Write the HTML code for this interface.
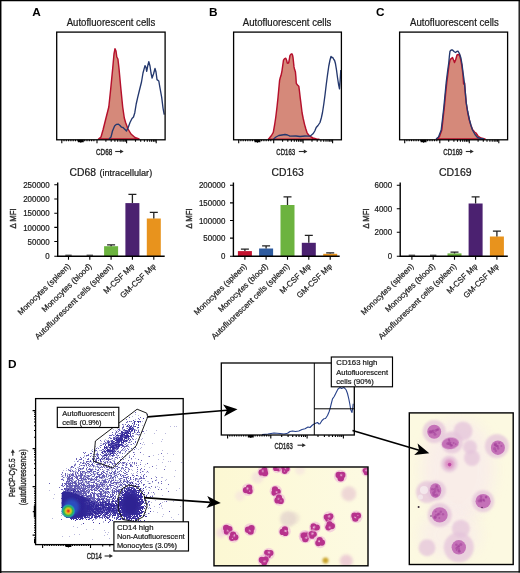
<!DOCTYPE html><html><head><meta charset="utf-8"><style>html,body{margin:0;padding:0;background:#fff}svg{display:block;will-change:transform}</style></head><body><svg width="520" height="573" viewBox="0 0 520 573" font-family="Liberation Sans, sans-serif">
<defs>
<filter id="b0" x="-50%" y="-50%" width="200%" height="200%"><feGaussianBlur stdDeviation="0.45"/></filter>
<filter id="b1" x="-50%" y="-50%" width="200%" height="200%"><feGaussianBlur stdDeviation="0.7"/></filter>
<filter id="b15" x="-50%" y="-50%" width="200%" height="200%"><feGaussianBlur stdDeviation="1.15"/></filter>
<filter id="b4" x="-50%" y="-50%" width="200%" height="200%"><feGaussianBlur stdDeviation="7"/></filter>
<filter id="b2" x="-50%" y="-50%" width="200%" height="200%"><feGaussianBlur stdDeviation="1.6"/></filter>
<filter id="b3" x="-50%" y="-50%" width="200%" height="200%"><feGaussianBlur stdDeviation="2.6"/></filter>
<clipPath id="c1"><rect x="214" y="467" width="154" height="98.8"/></clipPath>
<clipPath id="c2"><rect x="409.3" y="412.9" width="103.9" height="151.6"/></clipPath>
<clipPath id="cs"><rect x="36" y="399" width="147" height="145"/></clipPath>
<radialGradient id="core" cx="0.5" cy="0.5" r="0.5">
<stop offset="0" stop-color="#c81e1a"/><stop offset="0.13" stop-color="#e8541a"/><stop offset="0.3" stop-color="#f0b81c"/><stop offset="0.44" stop-color="#a8cc2c"/>
<stop offset="0.6" stop-color="#3aae4c"/><stop offset="0.8" stop-color="#1fa6a4"/><stop offset="1" stop-color="#2a62c8" stop-opacity="0"/>
</radialGradient>
<linearGradient id="tailg" x1="61" y1="0" x2="100" y2="0" gradientUnits="userSpaceOnUse"><stop offset="0" stop-color="#2e2596"/><stop offset="0.55" stop-color="#2e2596" stop-opacity="0.95"/><stop offset="1" stop-color="#2e2596" stop-opacity="0.15"/></linearGradient>
<linearGradient id="bg1" x1="214" y1="0" x2="368" y2="0" gradientUnits="userSpaceOnUse"><stop offset="0" stop-color="#fcf8d3"/><stop offset="1" stop-color="#fdfae2"/></linearGradient>
</defs>
<rect x="0" y="0" width="520" height="573" fill="#fff"/>
<path d="M98.5 139.0L101.0 137.0L103.0 130.0L105.5 120.0L108.8 107.0L110.8 88.0L112.7 68.5L114.0 54.0L115.0 48.7L116.0 51.0L116.8 57.0L117.9 59.0L119.0 68.5L120.8 88.0L122.7 107.0L124.3 118.0L125.6 122.5L128.0 129.0L131.0 134.0L135.0 137.5L139.0 139.0Z" fill="#d5897a" stroke="#b5102c" stroke-width="1.45" stroke-linejoin="round"/>
<path d="M109.0 139.0L111.0 137.0L112.5 131.0L114.6 126.0L116.5 124.3L118.5 124.2L120.0 125.5L121.5 127.2L123.0 127.5L125.0 129.5L126.5 131.0L128.0 128.0L130.0 122.5L132.0 118.5L133.5 117.0L134.8 112.7L136.2 104.0L137.7 97.3L139.5 90.0L141.5 82.0L143.0 73.0L145.0 65.6L146.0 67.5L146.7 71.3L147.7 66.0L148.8 61.7L150.0 66.0L151.0 73.0L152.1 78.0L153.5 74.0L155.0 68.5L156.0 72.0L157.0 79.6L158.8 81.0L160.0 88.0L161.7 97.3L163.0 108.0L164.2 114.6" fill="none" stroke="#24386e" stroke-width="1.35" stroke-linejoin="round"/>
<rect x="56.7" y="32.1" width="108.39999999999999" height="107.70000000000002" fill="none" stroke="#000" stroke-width="1.3"/>
<path d="M97.0 139.8v3.4M105.9 139.8v2.0M111.2 139.8v2.0M114.9 139.8v2.0M117.7 139.8v2.0M120.1 139.8v2.0M122.0 139.8v2.0M123.8 139.8v2.0M125.3 139.8v2.0M126.6 139.8v3.4M135.5 139.8v2.0M140.7 139.8v2.0M144.4 139.8v2.0M147.3 139.8v2.0M149.7 139.8v2.0M151.6 139.8v2.0M153.4 139.8v2.0M154.9 139.8v2.0M156.2 139.8v3.4M78.4 139.8v2.4M79.2 139.8v2.4M80.0 139.8v2.4M80.8 139.8v3.0M81.6 139.8v2.4M82.4 139.8v2.4M83.2 139.8v2.4M64.0 139.8v1.5M66.3 139.8v1.5M68.6 139.8v1.5M70.9 139.8v1.5M73.2 139.8v1.5M75.5 139.8v1.5M77.8 139.8v1.5M80.1 139.8v1.5M82.4 139.8v1.5M84.7 139.8v1.5M87.0 139.8v1.5M89.3 139.8v1.5M91.6 139.8v1.5M93.9 139.8v1.5M61.8 139.8v3.4" stroke="#000" stroke-width="1.1" fill="none"/>
<path d="M268.5 139.0L269.4 138.0L271.5 135.5L273.3 132.3L274.6 125.0L275.8 117.0L277.0 107.0L278.0 97.7L278.8 89.0L279.6 80.4L280.3 77.5L281.0 75.6L282.0 70.8L282.8 65.0L283.5 60.2L284.6 58.6L285.8 58.3L286.6 60.2L287.3 63.0L288.0 63.3L288.7 62.7L289.4 59.0L290.0 55.4L291.0 54.2L291.9 53.8L292.5 55.0L293.0 57.3L293.5 62.0L294.0 66.9L294.7 69.8L295.4 71.7L295.9 77.0L296.3 83.3L297.5 85.0L298.8 86.2L299.5 91.5L300.2 97.7L301.2 105.5L302.1 113.0L303.3 119.0L304.6 124.6L305.8 128.8L306.9 132.3L308.3 134.6L309.8 136.2L313.0 138.0L316.5 139.0L319.0 139.2Z" fill="#d5897a" stroke="#b5102c" stroke-width="1.45" stroke-linejoin="round"/>
<path d="M273.5 139.0L276.0 137.0L278.8 135.5L282.0 135.0L285.0 134.5L287.5 135.0L290.0 136.2L296.0 136.0L300.0 136.5L305.0 136.0L310.0 136.2L313.0 133.8L314.8 131.0L316.2 127.5L318.0 125.5L320.0 122.5L321.3 118.0L322.5 112.5L323.8 104.0L325.0 95.0L326.2 85.0L327.5 75.0L328.8 66.0L330.0 60.0L331.0 56.5L331.8 57.5L332.8 57.5L333.8 59.5L334.6 60.5L335.5 63.8L336.5 70.0L337.5 77.5L338.5 84.0L339.5 88.8L340.2 80.0L340.8 70.0" fill="none" stroke="#24386e" stroke-width="1.35" stroke-linejoin="round"/>
<rect x="233.6" y="32.1" width="107.79999999999998" height="107.70000000000002" fill="none" stroke="#000" stroke-width="1.3"/>
<path d="M273.7 139.8v3.4M282.6 139.8v2.0M287.8 139.8v2.0M291.4 139.8v2.0M294.3 139.8v2.0M296.6 139.8v2.0M298.6 139.8v2.0M300.3 139.8v2.0M301.8 139.8v2.0M303.1 139.8v3.4M312.0 139.8v2.0M317.2 139.8v2.0M320.9 139.8v2.0M323.7 139.8v2.0M326.0 139.8v2.0M328.0 139.8v2.0M329.7 139.8v2.0M331.2 139.8v2.0M332.6 139.8v3.4M255.1 139.8v2.4M255.9 139.8v2.4M256.7 139.8v2.4M257.5 139.8v3.0M258.3 139.8v2.4M259.1 139.8v2.4M259.9 139.8v2.4M240.9 139.8v1.5M243.2 139.8v1.5M245.5 139.8v1.5M247.8 139.8v1.5M250.1 139.8v1.5M252.4 139.8v1.5M254.7 139.8v1.5M257.0 139.8v1.5M259.3 139.8v1.5M261.6 139.8v1.5M263.9 139.8v1.5M266.2 139.8v1.5M268.5 139.8v1.5M270.8 139.8v1.5M238.7 139.8v3.4" stroke="#000" stroke-width="1.1" fill="none"/>
<path d="M437.0 139.0L439.5 136.5L441.8 130.0L443.0 119.0L444.3 107.5L445.5 95.0L446.8 82.5L448.0 73.0L449.0 65.0L450.0 60.0L451.2 58.5L452.5 57.5L453.6 60.0L454.5 62.5L455.6 60.0L457.0 55.0L458.3 54.5L459.5 55.0L460.8 60.0L462.0 67.0L463.0 75.0L463.6 84.0L464.6 83.0L465.2 92.0L466.2 103.0L467.6 112.0L469.3 120.0L470.8 125.0L472.5 129.5L474.5 132.0L476.0 133.0L478.0 136.0L481.0 138.0L485.0 139.0Z" fill="#d5897a" stroke="#b5102c" stroke-width="1.45" stroke-linejoin="round"/>
<path d="M436.0 139.0L438.5 137.0L441.2 130.0L442.5 119.0L443.8 107.5L445.0 95.0L446.2 82.5L447.5 72.0L448.8 62.5L449.4 56.0L450.0 51.2L451.2 50.0L452.5 50.0L454.0 51.5L455.5 52.5L456.8 51.5L458.0 51.2L459.4 53.5L460.8 57.5L462.0 64.0L463.0 72.5L463.8 78.0L464.5 83.8L465.4 93.0L466.2 102.5L467.8 112.0L469.5 120.0L471.0 125.5L472.5 130.0L475.0 134.5L477.5 137.5L480.5 138.5L484.0 139.0" fill="none" stroke="#24386e" stroke-width="1.35" stroke-linejoin="round"/>
<rect x="399.6" y="32.1" width="108.0" height="107.70000000000002" fill="none" stroke="#000" stroke-width="1.3"/>
<path d="M439.8 139.8v3.4M448.7 139.8v2.0M453.9 139.8v2.0M457.5 139.8v2.0M460.4 139.8v2.0M462.7 139.8v2.0M464.7 139.8v2.0M466.4 139.8v2.0M467.9 139.8v2.0M469.3 139.8v3.4M478.1 139.8v2.0M483.3 139.8v2.0M487.0 139.8v2.0M489.9 139.8v2.0M492.2 139.8v2.0M494.2 139.8v2.0M495.9 139.8v2.0M497.4 139.8v2.0M498.8 139.8v3.4M421.2 139.8v2.4M422.0 139.8v2.4M422.8 139.8v2.4M423.6 139.8v3.0M424.4 139.8v2.4M425.2 139.8v2.4M426.0 139.8v2.4M406.9 139.8v1.5M409.2 139.8v1.5M411.5 139.8v1.5M413.8 139.8v1.5M416.1 139.8v1.5M418.4 139.8v1.5M420.7 139.8v1.5M423.0 139.8v1.5M425.3 139.8v1.5M427.6 139.8v1.5M429.9 139.8v1.5M432.2 139.8v1.5M434.5 139.8v1.5M436.8 139.8v1.5M404.7 139.8v3.4" stroke="#000" stroke-width="1.1" fill="none"/>
<text x="66.7" y="26.1" font-size="10.4" text-anchor="start" font-weight="normal" fill="#1a1a1a" stroke="#1a1a1a" stroke-width="0.22" textLength="88.6" lengthAdjust="spacingAndGlyphs" >Autofluorescent cells</text>
<text x="242.8" y="26.1" font-size="10.4" text-anchor="start" font-weight="normal" fill="#1a1a1a" stroke="#1a1a1a" stroke-width="0.22" textLength="88.6" lengthAdjust="spacingAndGlyphs" >Autofluorescent cells</text>
<text x="410.09999999999997" y="26.1" font-size="10.4" text-anchor="start" font-weight="normal" fill="#1a1a1a" stroke="#1a1a1a" stroke-width="0.22" textLength="88.6" lengthAdjust="spacingAndGlyphs" >Autofluorescent cells</text>
<text x="32.2" y="16.1" font-size="11.8" text-anchor="start" font-weight="bold" fill="#000" >A</text>
<text x="209" y="16.1" font-size="11.8" text-anchor="start" font-weight="bold" fill="#000" >B</text>
<text x="376.1" y="16.1" font-size="11.8" text-anchor="start" font-weight="bold" fill="#000" >C</text>
<text x="7.9" y="368.1" font-size="11.8" text-anchor="start" font-weight="bold" fill="#000" >D</text>
<text x="96" y="155" font-size="9.7" text-anchor="start" font-weight="normal" fill="#2a2a2a" stroke="#2a2a2a" stroke-width="0.45" textLength="16.2" lengthAdjust="spacingAndGlyphs" >CD68</text>
<path d="M115.2 151.5H121.2" stroke="#2a2a2a" stroke-width="1.1" fill="none"/>
<path d="M123.7 151.5L120.10000000000001 149.5L120.10000000000001 153.5Z" fill="#2a2a2a"/>
<text x="276.3" y="155" font-size="9.7" text-anchor="start" font-weight="normal" fill="#2a2a2a" stroke="#2a2a2a" stroke-width="0.45" textLength="18.8" lengthAdjust="spacingAndGlyphs" >CD163</text>
<path d="M298.8 151.5H304.9" stroke="#2a2a2a" stroke-width="1.1" fill="none"/>
<path d="M307.4 151.5L303.79999999999995 149.5L303.79999999999995 153.5Z" fill="#2a2a2a"/>
<text x="443.3" y="155" font-size="9.7" text-anchor="start" font-weight="normal" fill="#2a2a2a" stroke="#2a2a2a" stroke-width="0.45" textLength="19.2" lengthAdjust="spacingAndGlyphs" >CD169</text>
<path d="M465.8 151.5H471.3" stroke="#2a2a2a" stroke-width="1.1" fill="none"/>
<path d="M473.8 151.5L470.2 149.5L470.2 153.5Z" fill="#2a2a2a"/>
<path d="M65.3 255.2h6.4" stroke="#222" stroke-width="1" fill="none"/>
<path d="M86.6 255.2h6.4" stroke="#222" stroke-width="1" fill="none"/>
<rect x="104.1" y="246.2" width="14" height="10.1" fill="#6cb33f"/>
<path d="M111.1 246.2V244.8M107.1 244.8h8" stroke="#222" stroke-width="1.3" fill="none"/>
<rect x="125.4" y="203.1" width="14" height="53.2" fill="#4b2170"/>
<path d="M132.4 203.1V194.3M128.4 194.3h8" stroke="#222" stroke-width="1.3" fill="none"/>
<rect x="146.8" y="218.5" width="14" height="37.8" fill="#e8931d"/>
<path d="M153.8 218.5V212.3M149.8 212.3h8" stroke="#222" stroke-width="1.3" fill="none"/>
<path d="M57.7 182.5V256.25H164.7" stroke="#000" stroke-width="1.4" fill="none" stroke-linejoin="miter"/>
<text x="49.7" y="187.9" font-size="8.8" text-anchor="end" font-weight="normal" fill="#1a1a1a" stroke="#1a1a1a" stroke-width="0.22" textLength="26.5" lengthAdjust="spacingAndGlyphs" >250000</text>
<text x="49.7" y="202.1" font-size="8.8" text-anchor="end" font-weight="normal" fill="#1a1a1a" stroke="#1a1a1a" stroke-width="0.22" textLength="26.5" lengthAdjust="spacingAndGlyphs" >200000</text>
<text x="49.7" y="216.29999999999998" font-size="8.8" text-anchor="end" font-weight="normal" fill="#1a1a1a" stroke="#1a1a1a" stroke-width="0.22" textLength="26.5" lengthAdjust="spacingAndGlyphs" >150000</text>
<text x="49.7" y="230.5" font-size="8.8" text-anchor="end" font-weight="normal" fill="#1a1a1a" stroke="#1a1a1a" stroke-width="0.22" textLength="26.5" lengthAdjust="spacingAndGlyphs" >100000</text>
<text x="49.7" y="244.6" font-size="8.8" text-anchor="end" font-weight="normal" fill="#1a1a1a" stroke="#1a1a1a" stroke-width="0.22" textLength="22.1" lengthAdjust="spacingAndGlyphs" >50000</text>
<text x="49.7" y="259.35" font-size="8.8" text-anchor="end" font-weight="normal" fill="#1a1a1a" stroke="#1a1a1a" stroke-width="0.22" textLength="4.4" lengthAdjust="spacingAndGlyphs" >0</text>
<path d="M57.7 184.8h-3.4M57.7 199h-3.4M57.7 213.2h-3.4M57.7 227.4h-3.4M57.7 241.5h-3.4M57.7 256.25h-3.4M68.5 256.25v3.4M89.8 256.25v3.4M111.1 256.25v3.4M132.4 256.25v3.4M153.8 256.25v3.4" stroke="#000" stroke-width="1.1" fill="none"/>
<text x="70.9" y="266.9" font-size="8" text-anchor="end" fill="#1a1a1a" stroke="#1a1a1a" stroke-width="0.2" transform="rotate(-44 70.9 266.9)">Monocytes (spleen)</text>
<text x="92.2" y="266.9" font-size="8" text-anchor="end" fill="#1a1a1a" stroke="#1a1a1a" stroke-width="0.2" transform="rotate(-44 92.2 266.9)">Monocytes (blood)</text>
<text x="113.5" y="266.9" font-size="8" text-anchor="end" fill="#1a1a1a" stroke="#1a1a1a" stroke-width="0.2" transform="rotate(-44 113.5 266.9)">Autofluorescent cells (spleen)</text>
<text x="134.8" y="266.9" font-size="8" text-anchor="end" fill="#1a1a1a" stroke="#1a1a1a" stroke-width="0.2" transform="rotate(-44 134.8 266.9)">M-CSF M&#966;</text>
<text x="156.2" y="266.9" font-size="8" text-anchor="end" fill="#1a1a1a" stroke="#1a1a1a" stroke-width="0.2" transform="rotate(-44 156.2 266.9)">GM-CSF M&#966;</text>
<rect x="237.9" y="251.1" width="14" height="5.2" fill="#c4122f"/>
<path d="M244.9 251.1V249.2M240.9 249.2h8" stroke="#222" stroke-width="1.3" fill="none"/>
<rect x="259.1" y="248.5" width="14" height="7.8" fill="#2d5a9e"/>
<path d="M266.1 248.5V245.8M262.1 245.8h8" stroke="#222" stroke-width="1.3" fill="none"/>
<rect x="280.5" y="205.0" width="14" height="51.2" fill="#6cb33f"/>
<path d="M287.5 205.0V196.8M283.5 196.8h8" stroke="#222" stroke-width="1.3" fill="none"/>
<rect x="301.8" y="242.8" width="14" height="13.4" fill="#4b2170"/>
<path d="M308.8 242.8V235.4M304.8 235.4h8" stroke="#222" stroke-width="1.3" fill="none"/>
<rect x="323.2" y="253.8" width="14" height="2.4" fill="#e8931d"/>
<path d="M330.2 253.8V252.9M326.2 252.9h8" stroke="#222" stroke-width="1.3" fill="none"/>
<path d="M233.4 182.5V256.25H339.7" stroke="#000" stroke-width="1.4" fill="none" stroke-linejoin="miter"/>
<text x="225.4" y="188.4" font-size="8.8" text-anchor="end" font-weight="normal" fill="#1a1a1a" stroke="#1a1a1a" stroke-width="0.22" textLength="26.5" lengthAdjust="spacingAndGlyphs" >200000</text>
<text x="225.4" y="206.0" font-size="8.8" text-anchor="end" font-weight="normal" fill="#1a1a1a" stroke="#1a1a1a" stroke-width="0.22" textLength="26.5" lengthAdjust="spacingAndGlyphs" >150000</text>
<text x="225.4" y="223.6" font-size="8.8" text-anchor="end" font-weight="normal" fill="#1a1a1a" stroke="#1a1a1a" stroke-width="0.22" textLength="26.5" lengthAdjust="spacingAndGlyphs" >100000</text>
<text x="225.4" y="241.2" font-size="8.8" text-anchor="end" font-weight="normal" fill="#1a1a1a" stroke="#1a1a1a" stroke-width="0.22" textLength="22.1" lengthAdjust="spacingAndGlyphs" >50000</text>
<text x="225.4" y="259.35" font-size="8.8" text-anchor="end" font-weight="normal" fill="#1a1a1a" stroke="#1a1a1a" stroke-width="0.22" textLength="4.4" lengthAdjust="spacingAndGlyphs" >0</text>
<path d="M233.4 185.3h-3.4M233.4 202.9h-3.4M233.4 220.5h-3.4M233.4 238.1h-3.4M233.4 256.25h-3.4M244.9 256.25v3.4M266.1 256.25v3.4M287.5 256.25v3.4M308.8 256.25v3.4M330.2 256.25v3.4" stroke="#000" stroke-width="1.1" fill="none"/>
<text x="247.3" y="266.9" font-size="8" text-anchor="end" fill="#1a1a1a" stroke="#1a1a1a" stroke-width="0.2" transform="rotate(-44 247.3 266.9)">Monocytes (spleen)</text>
<text x="268.5" y="266.9" font-size="8" text-anchor="end" fill="#1a1a1a" stroke="#1a1a1a" stroke-width="0.2" transform="rotate(-44 268.5 266.9)">Monocytes (blood)</text>
<text x="289.9" y="266.9" font-size="8" text-anchor="end" fill="#1a1a1a" stroke="#1a1a1a" stroke-width="0.2" transform="rotate(-44 289.9 266.9)">Autofluorescent cells (spleen)</text>
<text x="311.2" y="266.9" font-size="8" text-anchor="end" fill="#1a1a1a" stroke="#1a1a1a" stroke-width="0.2" transform="rotate(-44 311.2 266.9)">M-CSF M&#966;</text>
<text x="332.6" y="266.9" font-size="8" text-anchor="end" fill="#1a1a1a" stroke="#1a1a1a" stroke-width="0.2" transform="rotate(-44 332.6 266.9)">GM-CSF M&#966;</text>
<path d="M408.7 255.2h6.4" stroke="#222" stroke-width="1" fill="none"/>
<path d="M430.0 255.2h6.4" stroke="#222" stroke-width="1" fill="none"/>
<rect x="447.5" y="253.4" width="14" height="2.8" fill="#6cb33f"/>
<path d="M454.5 253.4V252.2M450.5 252.2h8" stroke="#222" stroke-width="1.3" fill="none"/>
<rect x="468.6" y="203.5" width="14" height="52.8" fill="#4b2170"/>
<path d="M475.6 203.5V196.8M471.6 196.8h8" stroke="#222" stroke-width="1.3" fill="none"/>
<rect x="489.9" y="236.5" width="14" height="19.8" fill="#e8931d"/>
<path d="M496.9 236.5V231.2M492.9 231.2h8" stroke="#222" stroke-width="1.3" fill="none"/>
<path d="M400.2 182.5V256.25H507.8" stroke="#000" stroke-width="1.4" fill="none" stroke-linejoin="miter"/>
<text x="392.2" y="188.4" font-size="8.8" text-anchor="end" font-weight="normal" fill="#1a1a1a" stroke="#1a1a1a" stroke-width="0.22" textLength="17.7" lengthAdjust="spacingAndGlyphs" >6000</text>
<text x="392.2" y="211.79999999999998" font-size="8.8" text-anchor="end" font-weight="normal" fill="#1a1a1a" stroke="#1a1a1a" stroke-width="0.22" textLength="17.7" lengthAdjust="spacingAndGlyphs" >4000</text>
<text x="392.2" y="235.29999999999998" font-size="8.8" text-anchor="end" font-weight="normal" fill="#1a1a1a" stroke="#1a1a1a" stroke-width="0.22" textLength="17.7" lengthAdjust="spacingAndGlyphs" >2000</text>
<text x="392.2" y="259.35" font-size="8.8" text-anchor="end" font-weight="normal" fill="#1a1a1a" stroke="#1a1a1a" stroke-width="0.22" textLength="4.4" lengthAdjust="spacingAndGlyphs" >0</text>
<path d="M400.2 185.3h-3.4M400.2 208.7h-3.4M400.2 232.2h-3.4M400.2 256.25h-3.4M411.9 256.25v3.4M433.2 256.25v3.4M454.5 256.25v3.4M475.6 256.25v3.4M496.9 256.25v3.4" stroke="#000" stroke-width="1.1" fill="none"/>
<text x="414.3" y="266.9" font-size="8" text-anchor="end" fill="#1a1a1a" stroke="#1a1a1a" stroke-width="0.2" transform="rotate(-44 414.3 266.9)">Monocytes (spleen)</text>
<text x="435.6" y="266.9" font-size="8" text-anchor="end" fill="#1a1a1a" stroke="#1a1a1a" stroke-width="0.2" transform="rotate(-44 435.6 266.9)">Monocytes (blood)</text>
<text x="456.9" y="266.9" font-size="8" text-anchor="end" fill="#1a1a1a" stroke="#1a1a1a" stroke-width="0.2" transform="rotate(-44 456.9 266.9)">Autofluorescent cells (spleen)</text>
<text x="478.0" y="266.9" font-size="8" text-anchor="end" fill="#1a1a1a" stroke="#1a1a1a" stroke-width="0.2" transform="rotate(-44 478.0 266.9)">M-CSF M&#966;</text>
<text x="499.3" y="266.9" font-size="8" text-anchor="end" fill="#1a1a1a" stroke="#1a1a1a" stroke-width="0.2" transform="rotate(-44 499.3 266.9)">GM-CSF M&#966;</text>
<text x="69.5" y="176.4" font-size="10.5" text-anchor="start" font-weight="normal" fill="#1a1a1a" stroke="#1a1a1a" stroke-width="0.22" textLength="26.4" lengthAdjust="spacingAndGlyphs" >CD68</text>
<text x="99.4" y="176.4" font-size="9.2" text-anchor="start" font-weight="normal" fill="#1a1a1a" stroke="#1a1a1a" stroke-width="0.22" textLength="52.8" lengthAdjust="spacingAndGlyphs" >(intracellular)</text>
<text x="271.5" y="176.4" font-size="10.5" text-anchor="start" font-weight="normal" fill="#1a1a1a" stroke="#1a1a1a" stroke-width="0.22" textLength="32.2" lengthAdjust="spacingAndGlyphs" >CD163</text>
<text x="438.9" y="176.4" font-size="10.5" text-anchor="start" font-weight="normal" fill="#1a1a1a" stroke="#1a1a1a" stroke-width="0.22" textLength="32.7" lengthAdjust="spacingAndGlyphs" >CD169</text>
<text x="15.9" y="228.6" font-size="9.2" fill="#2a2a2a" stroke="#2a2a2a" stroke-width="0.4" textLength="20.2" lengthAdjust="spacingAndGlyphs" transform="rotate(-90 15.9 228.6)">&#916; MFI</text>
<text x="192.3" y="228.6" font-size="9.2" fill="#2a2a2a" stroke="#2a2a2a" stroke-width="0.4" textLength="20.2" lengthAdjust="spacingAndGlyphs" transform="rotate(-90 192.3 228.6)">&#916; MFI</text>
<text x="369.5" y="228.6" font-size="9.2" fill="#2a2a2a" stroke="#2a2a2a" stroke-width="0.4" textLength="20.2" lengthAdjust="spacingAndGlyphs" transform="rotate(-90 369.5 228.6)">&#916; MFI</text>
<g clip-path="url(#cs)">
<path d="M49 490h1M52 518h1M53 498h1M54 494h1M61 476h1M61 502h1M61 503h1M61 511h1M61 513h1M61 515h1M62 473h1M62 475h1M62 478h1M62 483h1M62 486h1M62 498h1M62 514h1M62 536h1M63 470h1M63 475h1M63 479h1M63 490h1M63 491h1M63 500h1M63 502h1M63 503h1M63 504h1M63 505h1M63 509h1M64 477h1M64 489h1M64 493h1M64 494h1M64 495h1M64 496h1M64 497h1M64 498h1M64 500h1M64 501h1M64 502h1M64 503h1M64 504h1M64 516h1M65 473h1M65 476h1M65 489h1M65 490h1M65 491h1M65 492h1M65 494h1M65 495h1M65 496h1M65 497h1M65 498h1M65 499h1M65 500h1M65 501h1M65 502h1M65 503h1M65 504h1M65 511h1M65 516h1M66 468h1M66 470h1M66 477h1M66 482h1M66 488h1M66 489h1M66 491h1M66 492h1M66 493h1M66 494h1M66 495h1M66 496h1M66 497h1M66 498h1M66 499h1M66 500h1M66 501h1M66 502h1M66 503h1M66 504h1M66 505h1M66 506h1M66 508h1M66 514h1M67 473h1M67 474h1M67 476h1M67 477h1M67 478h1M67 481h1M67 482h1M67 485h1M67 486h1M67 487h1M67 488h1M67 489h1M67 490h1M67 491h1M67 492h1M67 493h1M67 494h1M67 496h1M67 497h1M67 498h1M67 499h1M67 500h1M67 501h1M67 502h1M67 503h1M67 509h1M67 517h1M68 470h1M68 474h1M68 476h1M68 477h1M68 478h1M68 480h1M68 484h1M68 485h1M68 486h1M68 487h1M68 488h1M68 489h1M68 490h1M68 491h1M68 492h1M68 493h1M68 494h1M68 495h1M68 496h1M68 497h1M68 498h1M68 499h1M68 500h1M68 501h1M68 502h1M68 504h1M68 505h1M68 506h1M69 470h1M69 474h1M69 476h1M69 477h1M69 479h1M69 481h1M69 482h1M69 483h1M69 485h1M69 488h1M69 489h1M69 492h1M69 493h1M69 494h1M69 495h1M69 496h1M69 498h1M69 499h1M69 500h1M69 501h1M69 502h1M69 517h1M69 536h1M70 467h1M70 468h1M70 469h1M70 473h1M70 474h1M70 475h1M70 476h1M70 478h1M70 479h1M70 480h1M70 483h1M70 484h1M70 485h1M70 487h1M70 488h1M70 489h1M70 490h1M70 491h1M70 492h1M70 493h1M70 494h1M70 495h1M70 496h1M70 497h1M70 498h1M70 499h1M70 500h1M70 501h1M70 502h1M70 505h1M70 512h1M71 469h1M71 471h1M71 478h1M71 479h1M71 480h1M71 482h1M71 483h1M71 485h1M71 487h1M71 489h1M71 490h1M71 491h1M71 492h1M71 493h1M71 494h1M71 495h1M71 496h1M71 497h1M71 498h1M71 499h1M71 500h1M71 501h1M71 503h1M71 509h1M72 467h1M72 471h1M72 475h1M72 476h1M72 477h1M72 478h1M72 480h1M72 483h1M72 487h1M72 488h1M72 489h1M72 490h1M72 491h1M72 492h1M72 494h1M72 495h1M72 496h1M72 497h1M72 498h1M72 499h1M72 500h1M72 507h1M72 509h1M72 514h1M73 472h1M73 473h1M73 475h1M73 476h1M73 479h1M73 480h1M73 482h1M73 483h1M73 486h1M73 488h1M73 489h1M73 490h1M73 492h1M73 493h1M73 495h1M73 496h1M73 497h1M73 498h1M73 499h1M73 500h1M73 506h1M73 507h1M73 510h1M73 526h1M74 461h1M74 464h1M74 466h1M74 471h1M74 476h1M74 478h1M74 481h1M74 482h1M74 483h1M74 485h1M74 486h1M74 487h1M74 489h1M74 491h1M74 493h1M74 494h1M74 495h1M74 496h1M74 497h1M74 498h1M74 500h1M74 506h1M74 510h1M74 511h1M74 534h1M75 463h1M75 465h1M75 470h1M75 471h1M75 473h1M75 475h1M75 476h1M75 480h1M75 481h1M75 482h1M75 483h1M75 485h1M75 486h1M75 489h1M75 490h1M75 492h1M75 495h1M75 496h1M75 497h1M75 498h1M76 469h1M76 471h1M76 472h1M76 474h1M76 475h1M76 476h1M76 481h1M76 482h1M76 483h1M76 484h1M76 486h1M76 487h1M76 488h1M76 489h1M76 491h1M76 492h1M76 493h1M76 494h1M76 495h1M76 496h1M76 497h1M76 503h1M76 512h1M77 461h1M77 467h1M77 473h1M77 477h1M77 479h1M77 482h1M77 484h1M77 485h1M77 490h1M77 491h1M77 492h1M77 494h1M77 495h1M77 497h1M77 501h1M77 502h1M77 503h1M77 506h1M77 511h1M77 515h1M77 527h1M78 460h1M78 461h1M78 467h1M78 468h1M78 473h1M78 474h1M78 476h1M78 479h1M78 480h1M78 481h1M78 482h1M78 484h1M78 485h1M78 488h1M78 489h1M78 490h1M78 492h1M78 494h1M78 495h1M78 497h1M78 498h1M78 500h1M78 501h1M78 506h1M78 508h1M79 476h1M79 478h1M79 482h1M79 483h1M79 486h1M79 489h1M79 491h1M79 492h1M79 493h1M79 494h1M79 495h1M79 496h1M79 497h1M79 502h1M79 503h1M79 509h1M79 534h1M80 463h1M80 465h1M80 468h1M80 472h1M80 480h1M80 481h1M80 482h1M80 483h1M80 485h1M80 486h1M80 487h1M80 489h1M80 490h1M80 492h1M80 493h1M80 494h1M80 496h1M80 502h1M80 504h1M80 506h1M80 512h1M81 462h1M81 465h1M81 468h1M81 469h1M81 471h1M81 473h1M81 475h1M81 476h1M81 479h1M81 483h1M81 484h1M81 485h1M81 487h1M81 490h1M81 492h1M81 494h1M81 495h1M81 498h1M81 499h1M81 501h1M81 504h1M81 507h1M81 509h1M81 524h1M82 465h1M82 468h1M82 469h1M82 471h1M82 472h1M82 473h1M82 474h1M82 479h1M82 487h1M82 490h1M82 491h1M82 494h1M82 495h1M82 497h1M82 499h1M82 502h1M82 504h1M83 461h1M83 463h1M83 471h1M83 472h1M83 473h1M83 475h1M83 476h1M83 477h1M83 480h1M83 481h1M83 482h1M83 484h1M83 485h1M83 486h1M83 490h1M83 491h1M83 493h1M83 494h1M83 500h1M83 503h1M83 504h1M83 505h1M84 455h1M84 456h1M84 462h1M84 463h1M84 465h1M84 466h1M84 472h1M84 473h1M84 475h1M84 476h1M84 477h1M84 478h1M84 479h1M84 480h1M84 482h1M84 483h1M84 484h1M84 486h1M84 487h1M84 490h1M84 491h1M84 493h1M84 496h1M84 498h1M84 500h1M84 501h1M84 503h1M84 506h1M84 514h1M84 517h1M85 458h1M85 464h1M85 475h1M85 477h1M85 479h1M85 480h1M85 482h1M85 485h1M85 489h1M85 495h1M85 497h1M85 503h1M86 455h1M86 456h1M86 466h1M86 470h1M86 475h1M86 476h1M86 480h1M86 483h1M86 484h1M86 485h1M86 486h1M86 488h1M86 490h1M86 492h1M86 495h1M86 498h1M86 502h1M86 510h1M86 511h1M86 529h1M87 459h1M87 461h1M87 470h1M87 471h1M87 472h1M87 473h1M87 476h1M87 477h1M87 481h1M87 482h1M87 483h1M87 487h1M87 488h1M87 489h1M87 491h1M87 495h1M87 496h1M87 498h1M87 499h1M87 501h1M87 507h1M87 511h1M87 516h1M88 463h1M88 464h1M88 471h1M88 472h1M88 473h1M88 476h1M88 477h1M88 479h1M88 484h1M88 485h1M88 486h1M88 488h1M88 489h1M88 490h1M88 491h1M88 492h1M88 495h1M88 496h1M88 500h1M88 505h1M88 509h1M88 513h1M88 514h1M88 516h1M88 517h1M88 519h1M89 461h1M89 462h1M89 471h1M89 475h1M89 479h1M89 481h1M89 482h1M89 483h1M89 484h1M89 486h1M89 487h1M89 488h1M89 489h1M89 490h1M89 492h1M89 495h1M89 497h1M89 500h1M89 502h1M89 508h1M89 511h1M89 513h1M89 514h1M90 453h1M90 456h1M90 466h1M90 468h1M90 469h1M90 471h1M90 478h1M90 479h1M90 481h1M90 482h1M90 485h1M90 486h1M90 487h1M90 489h1M90 494h1M90 496h1M90 497h1M90 498h1M91 450h1M91 453h1M91 455h1M91 461h1M91 462h1M91 464h1M91 466h1M91 470h1M91 472h1M91 474h1M91 475h1M91 477h1M91 478h1M91 480h1M91 482h1M91 484h1M91 485h1M91 486h1M91 487h1M91 489h1M91 490h1M91 495h1M91 496h1M91 498h1M91 499h1M91 500h1M91 501h1M91 507h1M91 513h1M91 515h1M92 449h1M92 456h1M92 458h1M92 459h1M92 464h1M92 465h1M92 468h1M92 470h1M92 472h1M92 474h1M92 478h1M92 480h1M92 482h1M92 486h1M92 487h1M92 488h1M92 489h1M92 490h1M92 492h1M92 493h1M92 498h1M92 500h1M92 502h1M92 503h1M92 507h1M92 509h1M92 516h1M92 539h1M93 460h1M93 465h1M93 466h1M93 467h1M93 469h1M93 473h1M93 474h1M93 476h1M93 479h1M93 480h1M93 481h1M93 482h1M93 483h1M93 484h1M93 485h1M93 493h1M93 495h1M93 501h1M93 504h1M93 505h1M93 515h1M93 529h1M94 454h1M94 456h1M94 459h1M94 461h1M94 463h1M94 465h1M94 466h1M94 471h1M94 473h1M94 474h1M94 476h1M94 479h1M94 480h1M94 481h1M94 486h1M94 488h1M94 489h1M94 491h1M94 494h1M94 497h1M94 499h1M94 503h1M94 504h1M94 510h1M94 512h1M95 446h1M95 449h1M95 451h1M95 454h1M95 456h1M95 459h1M95 466h1M95 467h1M95 468h1M95 471h1M95 473h1M95 474h1M95 477h1M95 479h1M95 480h1M95 483h1M95 485h1M95 487h1M95 488h1M95 489h1M95 490h1M95 498h1M95 501h1M95 507h1M95 508h1M95 510h1M95 511h1M95 514h1M95 515h1M95 519h1M96 453h1M96 455h1M96 457h1M96 458h1M96 459h1M96 461h1M96 462h1M96 466h1M96 469h1M96 472h1M96 473h1M96 476h1M96 477h1M96 478h1M96 479h1M96 482h1M96 483h1M96 486h1M96 487h1M96 488h1M96 489h1M96 490h1M96 493h1M96 495h1M96 498h1M96 499h1M96 502h1M96 505h1M96 508h1M96 509h1M97 447h1M97 451h1M97 452h1M97 455h1M97 456h1M97 458h1M97 463h1M97 464h1M97 465h1M97 467h1M97 473h1M97 474h1M97 479h1M97 483h1M97 486h1M97 487h1M97 488h1M97 489h1M97 491h1M97 493h1M97 494h1M97 495h1M97 498h1M97 501h1M97 504h1M97 505h1M97 506h1M97 510h1M97 514h1M98 455h1M98 456h1M98 460h1M98 462h1M98 463h1M98 466h1M98 472h1M98 475h1M98 476h1M98 479h1M98 480h1M98 483h1M98 484h1M98 485h1M98 486h1M98 488h1M98 490h1M98 493h1M98 494h1M98 496h1M98 497h1M98 499h1M98 500h1M99 446h1M99 450h1M99 458h1M99 459h1M99 465h1M99 467h1M99 471h1M99 475h1M99 477h1M99 478h1M99 481h1M99 482h1M99 487h1M99 489h1M99 490h1M99 493h1M99 494h1M99 496h1M99 503h1M99 504h1M99 509h1M99 515h1M99 518h1M100 443h1M100 450h1M100 461h1M100 462h1M100 465h1M100 467h1M100 474h1M100 475h1M100 477h1M100 478h1M100 483h1M100 492h1M100 493h1M100 500h1M100 510h1M101 441h1M101 443h1M101 458h1M101 459h1M101 461h1M101 462h1M101 463h1M101 466h1M101 467h1M101 473h1M101 476h1M101 477h1M101 480h1M101 481h1M101 482h1M101 483h1M101 486h1M101 494h1M101 495h1M101 496h1M101 497h1M101 498h1M101 504h1M101 511h1M102 444h1M102 451h1M102 452h1M102 455h1M102 458h1M102 459h1M102 473h1M102 475h1M102 478h1M102 479h1M102 482h1M102 485h1M102 487h1M102 491h1M102 493h1M102 495h1M102 496h1M102 497h1M102 498h1M102 499h1M102 506h1M102 508h1M102 509h1M102 511h1M102 517h1M103 450h1M103 453h1M103 459h1M103 463h1M103 464h1M103 465h1M103 466h1M103 470h1M103 472h1M103 477h1M103 478h1M103 483h1M103 485h1M103 486h1M103 487h1M103 490h1M103 491h1M103 492h1M103 496h1M103 497h1M103 499h1M103 503h1M103 505h1M103 510h1M103 512h1M103 516h1M103 521h1M103 522h1M104 440h1M104 446h1M104 450h1M104 454h1M104 456h1M104 457h1M104 459h1M104 460h1M104 462h1M104 463h1M104 464h1M104 465h1M104 466h1M104 467h1M104 470h1M104 472h1M104 477h1M104 479h1M104 481h1M104 483h1M104 484h1M104 485h1M104 486h1M104 488h1M104 490h1M104 491h1M104 492h1M104 493h1M104 503h1M104 504h1M104 507h1M104 509h1M104 511h1M104 530h1M104 535h1M105 439h1M105 443h1M105 445h1M105 448h1M105 452h1M105 453h1M105 454h1M105 455h1M105 459h1M105 461h1M105 462h1M105 465h1M105 466h1M105 468h1M105 476h1M105 478h1M105 479h1M105 483h1M105 485h1M105 487h1M105 488h1M105 491h1M105 492h1M105 493h1M105 494h1M105 495h1M105 496h1M105 498h1M105 499h1M105 504h1M105 505h1M105 506h1M105 509h1M105 511h1M105 515h1M105 519h1M105 532h1M106 440h1M106 442h1M106 448h1M106 451h1M106 456h1M106 457h1M106 461h1M106 466h1M106 467h1M106 469h1M106 473h1M106 474h1M106 477h1M106 479h1M106 485h1M106 486h1M106 490h1M106 491h1M106 493h1M106 496h1M106 499h1M106 501h1M106 503h1M106 504h1M106 510h1M107 440h1M107 441h1M107 443h1M107 446h1M107 447h1M107 450h1M107 451h1M107 452h1M107 457h1M107 462h1M107 463h1M107 470h1M107 472h1M107 473h1M107 474h1M107 477h1M107 482h1M107 483h1M107 485h1M107 487h1M107 488h1M107 491h1M107 492h1M107 495h1M107 496h1M107 497h1M107 500h1M107 512h1M107 516h1M107 534h1M108 438h1M108 441h1M108 443h1M108 444h1M108 447h1M108 450h1M108 451h1M108 452h1M108 453h1M108 459h1M108 460h1M108 462h1M108 466h1M108 467h1M108 470h1M108 474h1M108 475h1M108 478h1M108 480h1M108 481h1M108 486h1M108 491h1M108 496h1M108 497h1M108 499h1M108 502h1M108 508h1M108 513h1M108 518h1M108 532h1M109 437h1M109 443h1M109 447h1M109 448h1M109 449h1M109 451h1M109 453h1M109 456h1M109 458h1M109 461h1M109 462h1M109 464h1M109 467h1M109 470h1M109 473h1M109 479h1M109 480h1M109 488h1M109 493h1M109 498h1M109 499h1M109 502h1M109 503h1M109 511h1M109 514h1M109 519h1M109 538h1M110 437h1M110 440h1M110 441h1M110 443h1M110 444h1M110 445h1M110 446h1M110 449h1M110 450h1M110 451h1M110 453h1M110 454h1M110 455h1M110 456h1M110 459h1M110 461h1M110 462h1M110 467h1M110 468h1M110 473h1M110 474h1M110 475h1M110 476h1M110 483h1M110 487h1M110 488h1M110 489h1M110 491h1M110 499h1M110 503h1M110 506h1M110 516h1M111 446h1M111 449h1M111 450h1M111 452h1M111 458h1M111 459h1M111 463h1M111 469h1M111 470h1M111 472h1M111 473h1M111 476h1M111 477h1M111 478h1M111 479h1M111 482h1M111 485h1M111 490h1M111 492h1M111 494h1M111 497h1M111 499h1M111 501h1M111 502h1M111 504h1M111 505h1M111 507h1M112 443h1M112 445h1M112 451h1M112 460h1M112 467h1M112 468h1M112 469h1M112 474h1M112 477h1M112 483h1M112 491h1M112 492h1M112 494h1M112 495h1M112 500h1M112 501h1M112 505h1M112 513h1M112 516h1M113 429h1M113 437h1M113 442h1M113 443h1M113 445h1M113 446h1M113 449h1M113 456h1M113 460h1M113 461h1M113 463h1M113 465h1M113 468h1M113 473h1M113 474h1M113 476h1M113 477h1M113 478h1M113 482h1M113 487h1M113 488h1M113 490h1M113 491h1M113 497h1M113 503h1M113 504h1M113 505h1M113 512h1M114 435h1M114 437h1M114 438h1M114 441h1M114 442h1M114 443h1M114 444h1M114 447h1M114 451h1M114 458h1M114 459h1M114 460h1M114 464h1M114 468h1M114 473h1M114 475h1M114 476h1M114 481h1M114 484h1M114 490h1M114 492h1M114 493h1M114 498h1M114 501h1M114 507h1M114 510h1M115 430h1M115 432h1M115 437h1M115 439h1M115 440h1M115 442h1M115 443h1M115 444h1M115 447h1M115 449h1M115 450h1M115 457h1M115 459h1M115 466h1M115 467h1M115 469h1M115 470h1M115 471h1M115 472h1M115 476h1M115 477h1M115 478h1M115 479h1M115 480h1M115 483h1M115 484h1M115 486h1M115 488h1M115 495h1M115 501h1M115 503h1M115 510h1M116 431h1M116 436h1M116 437h1M116 439h1M116 442h1M116 443h1M116 445h1M116 446h1M116 447h1M116 449h1M116 450h1M116 452h1M116 454h1M116 455h1M116 464h1M116 468h1M116 473h1M116 474h1M116 480h1M116 483h1M116 488h1M116 492h1M116 493h1M116 501h1M116 503h1M116 510h1M116 512h1M116 517h1M117 428h1M117 430h1M117 432h1M117 435h1M117 436h1M117 440h1M117 441h1M117 444h1M117 446h1M117 447h1M117 451h1M117 453h1M117 455h1M117 456h1M117 457h1M117 462h1M117 463h1M117 465h1M117 466h1M117 468h1M117 469h1M117 471h1M117 474h1M117 477h1M117 480h1M117 481h1M117 483h1M117 485h1M117 486h1M117 488h1M117 490h1M117 498h1M117 499h1M117 500h1M118 433h1M118 438h1M118 441h1M118 444h1M118 445h1M118 446h1M118 447h1M118 450h1M118 452h1M118 463h1M118 471h1M118 472h1M118 474h1M118 478h1M118 480h1M118 483h1M118 484h1M118 486h1M118 487h1M118 490h1M118 491h1M118 494h1M118 502h1M118 510h1M119 425h1M119 428h1M119 435h1M119 439h1M119 440h1M119 443h1M119 446h1M119 453h1M119 457h1M119 461h1M119 478h1M119 481h1M119 484h1M119 485h1M119 495h1M119 496h1M119 502h1M119 507h1M119 510h1M119 511h1M120 430h1M120 433h1M120 434h1M120 440h1M120 453h1M120 459h1M120 460h1M120 462h1M120 474h1M120 475h1M120 479h1M120 480h1M120 481h1M120 482h1M120 483h1M120 487h1M120 494h1M120 508h1M120 511h1M120 513h1M120 516h1M120 517h1M121 431h1M121 438h1M121 442h1M121 443h1M121 444h1M121 445h1M121 447h1M121 457h1M121 459h1M121 463h1M121 467h1M121 469h1M121 474h1M121 480h1M121 487h1M121 488h1M121 489h1M121 490h1M121 492h1M121 494h1M121 495h1M121 499h1M121 503h1M121 505h1M121 507h1M121 514h1M121 515h1M122 429h1M122 432h1M122 437h1M122 438h1M122 442h1M122 443h1M122 445h1M122 450h1M122 453h1M122 458h1M122 463h1M122 464h1M122 468h1M122 478h1M122 485h1M122 495h1M122 503h1M122 505h1M122 507h1M122 508h1M122 510h1M123 424h1M123 425h1M123 426h1M123 429h1M123 433h1M123 435h1M123 439h1M123 440h1M123 441h1M123 443h1M123 450h1M123 463h1M123 469h1M123 479h1M123 480h1M123 481h1M123 490h1M123 492h1M123 494h1M123 506h1M123 509h1M123 512h1M123 518h1M124 429h1M124 431h1M124 433h1M124 434h1M124 435h1M124 444h1M124 449h1M124 450h1M124 453h1M124 463h1M124 475h1M124 477h1M124 479h1M124 483h1M124 487h1M124 489h1M124 494h1M124 496h1M124 497h1M124 499h1M124 501h1M124 506h1M124 507h1M124 511h1M124 513h1M125 438h1M125 441h1M125 442h1M125 446h1M125 448h1M125 449h1M125 452h1M125 455h1M125 456h1M125 458h1M125 462h1M125 464h1M125 466h1M125 467h1M125 487h1M125 490h1M125 492h1M125 495h1M125 496h1M125 497h1M125 498h1M125 499h1M125 501h1M125 503h1M125 511h1M125 516h1M126 426h1M126 428h1M126 431h1M126 432h1M126 438h1M126 439h1M126 441h1M126 446h1M126 479h1M126 480h1M126 481h1M126 489h1M126 490h1M126 494h1M126 498h1M126 504h1M127 422h1M127 426h1M127 431h1M127 435h1M127 438h1M127 439h1M127 440h1M127 441h1M127 444h1M127 446h1M127 462h1M127 464h1M127 467h1M127 472h1M127 476h1M127 480h1M127 481h1M127 487h1M127 488h1M127 491h1M127 492h1M127 499h1M127 509h1M128 427h1M128 429h1M128 430h1M128 431h1M128 435h1M128 436h1M128 438h1M128 444h1M128 451h1M128 469h1M128 470h1M128 481h1M128 482h1M128 487h1M128 490h1M128 494h1M128 504h1M128 518h1M128 525h1M129 421h1M129 426h1M129 429h1M129 430h1M129 440h1M129 441h1M129 447h1M129 455h1M129 456h1M129 483h1M129 487h1M129 488h1M129 490h1M129 493h1M129 496h1M129 502h1M129 506h1M129 510h1M130 421h1M130 440h1M130 442h1M130 444h1M130 462h1M130 465h1M130 477h1M130 495h1M130 496h1M130 537h1M131 426h1M131 427h1M131 431h1M131 436h1M131 459h1M131 464h1M131 466h1M131 469h1M131 473h1M131 479h1M131 481h1M131 484h1M131 488h1M131 489h1M131 490h1M131 498h1M131 502h1M131 503h1M131 504h1M131 506h1M132 416h1M132 423h1M132 431h1M132 436h1M132 439h1M132 450h1M132 463h1M132 470h1M132 474h1M132 482h1M132 483h1M132 486h1M133 422h1M133 424h1M133 427h1M133 435h1M133 452h1M133 473h1M133 481h1M133 483h1M133 484h1M133 486h1M133 491h1M133 497h1M133 512h1M134 444h1M134 452h1M134 464h1M134 476h1M134 485h1M134 486h1M134 490h1M134 498h1M134 508h1M134 516h1M135 414h1M135 419h1M135 429h1M135 430h1M135 432h1M135 434h1M135 439h1M135 458h1M135 491h1M135 495h1M135 496h1M135 501h1M135 503h1M135 512h1M136 433h1M136 434h1M136 438h1M136 448h1M136 462h1M136 472h1M136 479h1M136 483h1M136 487h1M136 491h1M136 492h1M136 495h1M136 514h1M136 519h1M137 428h1M137 442h1M137 473h1M137 478h1M137 479h1M137 484h1M137 516h1M137 536h1M138 415h1M138 427h1M138 429h1M138 432h1M138 434h1M138 435h1M138 449h1M138 465h1M138 476h1M138 479h1M138 480h1M138 482h1M138 484h1M138 485h1M138 487h1M138 497h1M138 499h1M139 439h1M139 479h1M139 486h1M139 518h1M140 422h1M140 448h1M140 462h1M140 470h1M140 472h1M140 477h1M140 495h1M140 497h1M141 439h1M141 447h1M141 474h1M141 483h1M141 488h1M141 490h1M141 496h1M142 421h1M142 425h1M142 438h1M142 444h1M142 478h1M142 489h1M142 529h1M143 442h1M143 454h1M143 471h1M143 477h1M143 508h1M144 433h1M144 444h1M144 466h1M144 496h1M144 505h1M144 532h1M145 464h1M145 480h1M145 486h1M145 512h1M145 514h1M146 417h1M146 430h1M146 472h1M146 486h1M146 489h1M146 507h1M146 514h1M147 463h1M147 481h1M147 494h1M147 507h1M148 456h1M148 472h1M148 481h1M148 483h1M148 487h1M148 492h1M148 498h1M148 508h1M148 521h1M149 467h1M149 490h1M149 507h1M149 513h1M150 483h1M150 488h1M151 492h1M151 502h1M152 443h1M152 482h1M152 495h1M153 455h1M153 511h1M153 521h1M154 433h1M154 493h1M154 494h1M154 506h1M155 476h1M155 486h1M155 500h1M156 430h1M156 465h1M156 468h1M156 479h1M156 480h1M157 486h1M157 512h1M158 454h1M158 459h1M158 483h1M158 489h1M159 487h1M159 507h1M161 441h1M161 477h1M161 505h1M161 506h1M162 439h1M162 450h1M162 462h1M162 477h1M162 495h1M162 502h1M162 508h1M162 516h1M163 456h1M163 459h1M163 514h1M164 501h1M165 433h1M165 466h1M165 480h1M166 479h1M166 488h1M167 453h1M168 461h1M170 426h1M170 461h1M171 517h1M173 454h1M173 501h1M173 519h1M174 426h1M174 476h1M174 532h1M175 470h1M176 426h1M176 490h1M177 525h1M178 514h1M179 488h1M180 506h1M181 462h1M182 528h1" stroke="#a3a1d2" stroke-width="1" stroke-opacity="0.75" fill="none" shape-rendering="crispEdges"/>
<path d="M49 483h1M59 487h1M61 474h1M61 479h1M61 485h1M61 489h1M61 493h1M61 498h1M61 519h1M62 472h1M62 476h1M62 479h1M62 483h1M62 484h1M62 485h1M62 489h1M62 492h1M62 509h1M62 510h1M63 477h1M63 480h1M63 486h1M63 502h1M63 503h1M63 504h1M63 505h1M63 506h1M63 508h1M64 483h1M64 485h1M64 489h1M64 495h1M64 496h1M64 497h1M64 498h1M64 499h1M64 500h1M64 501h1M64 502h1M64 503h1M64 504h1M64 505h1M64 510h1M65 473h1M65 474h1M65 475h1M65 483h1M65 484h1M65 488h1M65 489h1M65 490h1M65 492h1M65 493h1M65 494h1M65 495h1M65 496h1M65 497h1M65 498h1M65 499h1M65 500h1M65 501h1M65 502h1M65 503h1M65 504h1M65 510h1M66 481h1M66 482h1M66 483h1M66 484h1M66 485h1M66 486h1M66 487h1M66 488h1M66 489h1M66 490h1M66 492h1M66 493h1M66 494h1M66 495h1M66 496h1M66 497h1M66 498h1M66 499h1M66 500h1M66 501h1M66 502h1M66 503h1M66 515h1M67 475h1M67 476h1M67 478h1M67 479h1M67 480h1M67 481h1M67 483h1M67 485h1M67 486h1M67 488h1M67 489h1M67 490h1M67 491h1M67 492h1M67 493h1M67 494h1M67 495h1M67 496h1M67 497h1M67 498h1M67 499h1M67 500h1M67 501h1M67 502h1M67 503h1M67 513h1M68 469h1M68 477h1M68 478h1M68 479h1M68 481h1M68 482h1M68 483h1M68 484h1M68 486h1M68 488h1M68 489h1M68 490h1M68 491h1M68 492h1M68 493h1M68 494h1M68 495h1M68 496h1M68 497h1M68 498h1M68 499h1M68 500h1M68 501h1M68 502h1M68 508h1M69 470h1M69 474h1M69 475h1M69 476h1M69 477h1M69 478h1M69 479h1M69 480h1M69 481h1M69 483h1M69 484h1M69 485h1M69 486h1M69 487h1M69 488h1M69 489h1M69 490h1M69 491h1M69 492h1M69 493h1M69 494h1M69 495h1M69 496h1M69 497h1M69 498h1M69 499h1M69 500h1M69 501h1M69 502h1M69 504h1M69 505h1M69 515h1M70 470h1M70 471h1M70 476h1M70 478h1M70 480h1M70 482h1M70 483h1M70 484h1M70 485h1M70 486h1M70 487h1M70 488h1M70 489h1M70 490h1M70 491h1M70 492h1M70 493h1M70 494h1M70 495h1M70 496h1M70 497h1M70 498h1M70 499h1M70 500h1M70 501h1M70 510h1M71 466h1M71 467h1M71 474h1M71 475h1M71 477h1M71 478h1M71 480h1M71 481h1M71 483h1M71 485h1M71 486h1M71 487h1M71 488h1M71 489h1M71 492h1M71 494h1M71 495h1M71 496h1M71 497h1M71 498h1M71 499h1M71 500h1M71 506h1M71 507h1M71 513h1M72 466h1M72 470h1M72 473h1M72 474h1M72 475h1M72 477h1M72 478h1M72 479h1M72 481h1M72 482h1M72 483h1M72 484h1M72 485h1M72 486h1M72 488h1M72 489h1M72 490h1M72 492h1M72 494h1M72 495h1M72 496h1M72 497h1M72 498h1M72 499h1M72 500h1M72 502h1M72 505h1M73 467h1M73 471h1M73 474h1M73 475h1M73 482h1M73 485h1M73 488h1M73 489h1M73 490h1M73 491h1M73 492h1M73 493h1M73 494h1M73 495h1M73 496h1M73 497h1M73 498h1M73 499h1M73 500h1M73 501h1M73 502h1M73 504h1M74 465h1M74 476h1M74 481h1M74 482h1M74 483h1M74 485h1M74 486h1M74 487h1M74 488h1M74 489h1M74 490h1M74 492h1M74 493h1M74 494h1M74 495h1M74 496h1M74 497h1M74 498h1M74 499h1M74 508h1M74 516h1M75 464h1M75 468h1M75 472h1M75 473h1M75 474h1M75 477h1M75 481h1M75 482h1M75 483h1M75 484h1M75 485h1M75 486h1M75 487h1M75 488h1M75 489h1M75 491h1M75 492h1M75 493h1M75 494h1M75 495h1M75 496h1M75 497h1M75 498h1M75 514h1M75 518h1M76 458h1M76 459h1M76 475h1M76 476h1M76 477h1M76 478h1M76 480h1M76 483h1M76 484h1M76 485h1M76 486h1M76 488h1M76 491h1M76 492h1M76 493h1M76 494h1M76 495h1M76 496h1M76 497h1M76 498h1M76 508h1M76 509h1M76 513h1M76 518h1M77 461h1M77 472h1M77 473h1M77 476h1M77 477h1M77 478h1M77 479h1M77 485h1M77 486h1M77 487h1M77 488h1M77 489h1M77 490h1M77 491h1M77 492h1M77 493h1M77 494h1M77 495h1M77 496h1M77 497h1M77 501h1M77 505h1M77 508h1M77 513h1M78 469h1M78 470h1M78 471h1M78 475h1M78 479h1M78 480h1M78 481h1M78 482h1M78 483h1M78 484h1M78 485h1M78 486h1M78 487h1M78 488h1M78 490h1M78 491h1M78 492h1M78 493h1M78 494h1M78 495h1M78 496h1M78 497h1M78 498h1M78 499h1M78 503h1M78 507h1M78 512h1M78 514h1M79 459h1M79 464h1M79 466h1M79 468h1M79 470h1M79 475h1M79 478h1M79 480h1M79 483h1M79 484h1M79 486h1M79 487h1M79 488h1M79 489h1M79 491h1M79 492h1M79 493h1M79 494h1M79 496h1M79 499h1M79 501h1M79 502h1M79 504h1M79 506h1M79 509h1M80 457h1M80 459h1M80 462h1M80 468h1M80 469h1M80 471h1M80 472h1M80 473h1M80 474h1M80 475h1M80 476h1M80 477h1M80 478h1M80 480h1M80 483h1M80 485h1M80 488h1M80 489h1M80 490h1M80 491h1M80 492h1M80 493h1M80 494h1M80 497h1M80 500h1M80 503h1M80 504h1M80 511h1M80 513h1M80 514h1M81 458h1M81 459h1M81 465h1M81 473h1M81 474h1M81 475h1M81 476h1M81 477h1M81 478h1M81 479h1M81 480h1M81 482h1M81 483h1M81 484h1M81 486h1M81 487h1M81 488h1M81 490h1M81 491h1M81 492h1M81 493h1M81 494h1M81 495h1M81 496h1M81 497h1M81 499h1M81 501h1M81 502h1M81 503h1M81 504h1M81 505h1M81 506h1M81 507h1M81 508h1M81 510h1M81 511h1M81 512h1M81 513h1M81 518h1M82 463h1M82 468h1M82 471h1M82 472h1M82 474h1M82 475h1M82 478h1M82 480h1M82 481h1M82 482h1M82 484h1M82 485h1M82 488h1M82 489h1M82 490h1M82 491h1M82 493h1M82 495h1M82 496h1M82 497h1M82 499h1M82 500h1M82 502h1M82 503h1M82 504h1M82 506h1M82 507h1M82 508h1M82 509h1M82 510h1M82 511h1M82 512h1M82 513h1M82 514h1M82 518h1M82 519h1M83 452h1M83 457h1M83 460h1M83 462h1M83 463h1M83 465h1M83 467h1M83 468h1M83 471h1M83 477h1M83 478h1M83 479h1M83 483h1M83 484h1M83 485h1M83 486h1M83 487h1M83 488h1M83 489h1M83 490h1M83 491h1M83 492h1M83 493h1M83 494h1M83 495h1M83 496h1M83 497h1M83 499h1M83 500h1M83 501h1M83 503h1M83 504h1M83 505h1M83 506h1M83 507h1M83 508h1M83 510h1M83 511h1M83 514h1M83 518h1M84 453h1M84 465h1M84 471h1M84 475h1M84 476h1M84 479h1M84 484h1M84 485h1M84 488h1M84 489h1M84 490h1M84 491h1M84 492h1M84 493h1M84 495h1M84 497h1M84 498h1M84 499h1M84 500h1M84 501h1M84 502h1M84 504h1M84 505h1M84 506h1M84 507h1M84 508h1M84 510h1M84 511h1M84 512h1M84 513h1M84 514h1M84 516h1M85 452h1M85 463h1M85 472h1M85 473h1M85 474h1M85 476h1M85 478h1M85 479h1M85 481h1M85 485h1M85 486h1M85 487h1M85 488h1M85 489h1M85 491h1M85 492h1M85 493h1M85 494h1M85 495h1M85 497h1M85 498h1M85 499h1M85 500h1M85 502h1M85 503h1M85 504h1M85 505h1M85 506h1M85 507h1M85 508h1M85 509h1M85 510h1M85 511h1M85 512h1M85 513h1M85 515h1M85 516h1M85 517h1M85 518h1M86 455h1M86 461h1M86 462h1M86 464h1M86 465h1M86 468h1M86 469h1M86 472h1M86 477h1M86 479h1M86 481h1M86 482h1M86 486h1M86 488h1M86 490h1M86 491h1M86 493h1M86 494h1M86 495h1M86 496h1M86 497h1M86 498h1M86 499h1M86 500h1M86 501h1M86 502h1M86 503h1M86 504h1M86 505h1M86 508h1M86 510h1M86 511h1M86 512h1M86 515h1M86 517h1M87 455h1M87 459h1M87 461h1M87 463h1M87 467h1M87 471h1M87 475h1M87 477h1M87 478h1M87 483h1M87 485h1M87 486h1M87 487h1M87 490h1M87 492h1M87 496h1M87 497h1M87 498h1M87 499h1M87 500h1M87 502h1M87 503h1M87 504h1M87 505h1M87 506h1M87 507h1M87 508h1M87 509h1M87 510h1M87 511h1M87 512h1M87 514h1M87 515h1M87 517h1M88 454h1M88 455h1M88 458h1M88 459h1M88 461h1M88 463h1M88 465h1M88 469h1M88 471h1M88 475h1M88 476h1M88 478h1M88 479h1M88 481h1M88 482h1M88 483h1M88 485h1M88 487h1M88 489h1M88 491h1M88 492h1M88 493h1M88 495h1M88 496h1M88 497h1M88 498h1M88 499h1M88 500h1M88 501h1M88 502h1M88 503h1M88 504h1M88 505h1M88 506h1M88 507h1M88 508h1M88 509h1M88 510h1M88 511h1M88 512h1M88 513h1M88 514h1M88 515h1M88 519h1M89 464h1M89 466h1M89 468h1M89 469h1M89 471h1M89 472h1M89 476h1M89 478h1M89 481h1M89 484h1M89 485h1M89 486h1M89 487h1M89 490h1M89 491h1M89 495h1M89 496h1M89 498h1M89 499h1M89 500h1M89 501h1M89 502h1M89 503h1M89 504h1M89 505h1M89 506h1M89 507h1M89 508h1M89 509h1M89 510h1M89 512h1M89 513h1M89 514h1M89 515h1M89 516h1M89 517h1M89 518h1M89 519h1M90 453h1M90 456h1M90 460h1M90 465h1M90 469h1M90 470h1M90 471h1M90 473h1M90 475h1M90 479h1M90 480h1M90 485h1M90 489h1M90 493h1M90 494h1M90 495h1M90 496h1M90 497h1M90 498h1M90 499h1M90 500h1M90 502h1M90 503h1M90 504h1M90 505h1M90 506h1M90 507h1M90 508h1M90 509h1M90 510h1M90 511h1M90 512h1M90 513h1M90 514h1M91 453h1M91 464h1M91 469h1M91 470h1M91 471h1M91 474h1M91 478h1M91 479h1M91 480h1M91 482h1M91 485h1M91 486h1M91 487h1M91 488h1M91 489h1M91 490h1M91 492h1M91 494h1M91 495h1M91 496h1M91 497h1M91 498h1M91 501h1M91 502h1M91 503h1M91 504h1M91 505h1M91 506h1M91 507h1M91 508h1M91 509h1M91 510h1M91 511h1M91 512h1M91 513h1M91 514h1M91 516h1M91 517h1M91 518h1M92 451h1M92 458h1M92 459h1M92 463h1M92 464h1M92 465h1M92 469h1M92 476h1M92 479h1M92 482h1M92 485h1M92 486h1M92 487h1M92 490h1M92 492h1M92 493h1M92 497h1M92 498h1M92 499h1M92 502h1M92 503h1M92 504h1M92 506h1M92 507h1M92 508h1M92 510h1M92 511h1M92 512h1M92 513h1M92 514h1M92 515h1M92 520h1M93 454h1M93 456h1M93 459h1M93 460h1M93 461h1M93 462h1M93 465h1M93 466h1M93 471h1M93 472h1M93 473h1M93 476h1M93 479h1M93 482h1M93 484h1M93 485h1M93 486h1M93 487h1M93 489h1M93 493h1M93 494h1M93 495h1M93 496h1M93 497h1M93 498h1M93 499h1M93 500h1M93 501h1M93 502h1M93 503h1M93 504h1M93 505h1M93 506h1M93 507h1M93 508h1M93 509h1M93 510h1M93 511h1M93 512h1M93 514h1M93 515h1M93 519h1M94 458h1M94 471h1M94 474h1M94 475h1M94 478h1M94 481h1M94 482h1M94 485h1M94 486h1M94 488h1M94 489h1M94 490h1M94 492h1M94 493h1M94 494h1M94 495h1M94 496h1M94 497h1M94 498h1M94 499h1M94 500h1M94 501h1M94 502h1M94 503h1M94 504h1M94 505h1M94 506h1M94 507h1M94 508h1M94 509h1M94 511h1M94 512h1M94 516h1M94 517h1M95 450h1M95 456h1M95 460h1M95 461h1M95 462h1M95 469h1M95 471h1M95 477h1M95 479h1M95 483h1M95 487h1M95 490h1M95 493h1M95 498h1M95 500h1M95 501h1M95 502h1M95 503h1M95 504h1M95 506h1M95 508h1M95 509h1M95 510h1M95 512h1M95 513h1M95 514h1M95 515h1M95 516h1M95 518h1M96 448h1M96 450h1M96 454h1M96 458h1M96 459h1M96 460h1M96 464h1M96 476h1M96 477h1M96 478h1M96 479h1M96 480h1M96 483h1M96 484h1M96 485h1M96 486h1M96 487h1M96 488h1M96 490h1M96 494h1M96 499h1M96 501h1M96 502h1M96 503h1M96 504h1M96 505h1M96 506h1M96 507h1M96 508h1M96 510h1M96 511h1M96 513h1M96 514h1M96 515h1M96 516h1M96 517h1M96 518h1M97 453h1M97 454h1M97 455h1M97 456h1M97 464h1M97 466h1M97 470h1M97 472h1M97 473h1M97 474h1M97 476h1M97 477h1M97 481h1M97 484h1M97 485h1M97 486h1M97 488h1M97 489h1M97 494h1M97 495h1M97 496h1M97 498h1M97 499h1M97 500h1M97 501h1M97 502h1M97 503h1M97 504h1M97 505h1M97 507h1M97 508h1M97 509h1M97 510h1M97 511h1M97 512h1M97 513h1M97 516h1M97 517h1M98 448h1M98 454h1M98 457h1M98 458h1M98 460h1M98 463h1M98 464h1M98 467h1M98 469h1M98 470h1M98 472h1M98 474h1M98 476h1M98 481h1M98 486h1M98 487h1M98 488h1M98 490h1M98 493h1M98 495h1M98 496h1M98 497h1M98 498h1M98 499h1M98 500h1M98 502h1M98 503h1M98 504h1M98 507h1M98 508h1M98 509h1M98 511h1M98 514h1M98 516h1M99 463h1M99 464h1M99 468h1M99 474h1M99 475h1M99 476h1M99 477h1M99 480h1M99 484h1M99 485h1M99 486h1M99 487h1M99 490h1M99 491h1M99 493h1M99 496h1M99 498h1M99 500h1M99 501h1M99 502h1M99 504h1M99 505h1M99 507h1M99 508h1M99 509h1M99 510h1M99 511h1M99 513h1M99 515h1M99 516h1M99 517h1M100 440h1M100 445h1M100 447h1M100 454h1M100 461h1M100 464h1M100 467h1M100 469h1M100 474h1M100 477h1M100 482h1M100 483h1M100 484h1M100 486h1M100 488h1M100 489h1M100 491h1M100 492h1M100 493h1M100 495h1M100 496h1M100 497h1M100 499h1M100 501h1M100 502h1M100 503h1M100 504h1M100 505h1M100 506h1M100 507h1M100 508h1M100 509h1M100 510h1M100 511h1M100 512h1M100 514h1M100 517h1M101 445h1M101 450h1M101 452h1M101 455h1M101 461h1M101 463h1M101 466h1M101 472h1M101 473h1M101 474h1M101 477h1M101 478h1M101 482h1M101 484h1M101 485h1M101 488h1M101 489h1M101 491h1M101 492h1M101 493h1M101 494h1M101 495h1M101 496h1M101 498h1M101 503h1M101 504h1M101 505h1M101 506h1M101 507h1M101 509h1M101 510h1M101 511h1M101 513h1M101 514h1M101 517h1M102 449h1M102 451h1M102 452h1M102 453h1M102 456h1M102 457h1M102 459h1M102 464h1M102 467h1M102 469h1M102 471h1M102 473h1M102 475h1M102 476h1M102 477h1M102 480h1M102 483h1M102 484h1M102 485h1M102 486h1M102 489h1M102 490h1M102 494h1M102 496h1M102 498h1M102 499h1M102 500h1M102 501h1M102 503h1M102 505h1M102 507h1M102 508h1M102 509h1M102 510h1M102 511h1M102 512h1M102 513h1M102 515h1M102 516h1M102 517h1M102 518h1M103 443h1M103 444h1M103 449h1M103 451h1M103 453h1M103 455h1M103 456h1M103 458h1M103 461h1M103 465h1M103 466h1M103 471h1M103 472h1M103 474h1M103 475h1M103 476h1M103 480h1M103 481h1M103 482h1M103 484h1M103 488h1M103 490h1M103 491h1M103 493h1M103 495h1M103 496h1M103 498h1M103 499h1M103 500h1M103 501h1M103 502h1M103 503h1M103 504h1M103 505h1M103 506h1M103 507h1M103 508h1M103 509h1M103 510h1M103 511h1M103 512h1M103 515h1M104 441h1M104 443h1M104 447h1M104 448h1M104 450h1M104 451h1M104 452h1M104 454h1M104 457h1M104 462h1M104 464h1M104 467h1M104 472h1M104 475h1M104 476h1M104 477h1M104 480h1M104 481h1M104 482h1M104 484h1M104 486h1M104 492h1M104 495h1M104 496h1M104 497h1M104 498h1M104 500h1M104 501h1M104 504h1M104 505h1M104 506h1M104 507h1M104 508h1M104 509h1M104 510h1M104 511h1M104 512h1M104 513h1M104 514h1M104 516h1M104 517h1M105 442h1M105 445h1M105 449h1M105 451h1M105 452h1M105 454h1M105 455h1M105 457h1M105 462h1M105 463h1M105 465h1M105 473h1M105 479h1M105 480h1M105 481h1M105 482h1M105 489h1M105 491h1M105 492h1M105 493h1M105 494h1M105 495h1M105 496h1M105 501h1M105 502h1M105 503h1M105 504h1M105 505h1M105 506h1M105 507h1M105 508h1M105 510h1M105 512h1M105 513h1M105 514h1M105 515h1M105 518h1M106 443h1M106 450h1M106 454h1M106 456h1M106 465h1M106 466h1M106 467h1M106 471h1M106 474h1M106 475h1M106 476h1M106 481h1M106 482h1M106 484h1M106 488h1M106 489h1M106 492h1M106 496h1M106 499h1M106 500h1M106 501h1M106 502h1M106 503h1M106 505h1M106 506h1M106 507h1M106 508h1M106 509h1M106 510h1M106 511h1M106 512h1M106 513h1M106 514h1M106 516h1M107 441h1M107 442h1M107 447h1M107 448h1M107 450h1M107 452h1M107 454h1M107 455h1M107 458h1M107 459h1M107 461h1M107 462h1M107 467h1M107 469h1M107 471h1M107 479h1M107 486h1M107 487h1M107 488h1M107 489h1M107 491h1M107 493h1M107 496h1M107 497h1M107 499h1M107 500h1M107 501h1M107 503h1M107 505h1M107 507h1M107 508h1M107 509h1M107 510h1M107 512h1M107 514h1M107 515h1M107 517h1M108 440h1M108 441h1M108 442h1M108 443h1M108 444h1M108 446h1M108 449h1M108 450h1M108 451h1M108 453h1M108 454h1M108 456h1M108 457h1M108 458h1M108 459h1M108 460h1M108 465h1M108 469h1M108 476h1M108 481h1M108 482h1M108 486h1M108 488h1M108 489h1M108 491h1M108 492h1M108 494h1M108 496h1M108 499h1M108 500h1M108 501h1M108 503h1M108 504h1M108 505h1M108 506h1M108 507h1M108 508h1M108 509h1M108 510h1M108 511h1M108 512h1M108 515h1M108 517h1M108 518h1M109 435h1M109 437h1M109 441h1M109 442h1M109 444h1M109 447h1M109 449h1M109 450h1M109 451h1M109 452h1M109 454h1M109 455h1M109 459h1M109 464h1M109 466h1M109 467h1M109 468h1M109 472h1M109 475h1M109 478h1M109 480h1M109 484h1M109 485h1M109 492h1M109 499h1M109 500h1M109 501h1M109 502h1M109 504h1M109 505h1M109 507h1M109 508h1M109 509h1M109 510h1M109 511h1M109 514h1M109 515h1M109 516h1M109 517h1M109 521h1M110 435h1M110 438h1M110 443h1M110 444h1M110 446h1M110 447h1M110 448h1M110 449h1M110 450h1M110 451h1M110 452h1M110 459h1M110 461h1M110 462h1M110 473h1M110 475h1M110 477h1M110 478h1M110 481h1M110 482h1M110 484h1M110 485h1M110 486h1M110 494h1M110 495h1M110 496h1M110 497h1M110 503h1M110 504h1M110 505h1M110 506h1M110 508h1M110 509h1M110 510h1M110 511h1M110 512h1M110 513h1M110 514h1M110 515h1M110 519h1M111 435h1M111 438h1M111 440h1M111 442h1M111 443h1M111 444h1M111 445h1M111 446h1M111 447h1M111 450h1M111 453h1M111 455h1M111 462h1M111 466h1M111 467h1M111 468h1M111 472h1M111 473h1M111 475h1M111 476h1M111 480h1M111 481h1M111 483h1M111 485h1M111 487h1M111 497h1M111 501h1M111 502h1M111 503h1M111 504h1M111 506h1M111 509h1M111 511h1M111 512h1M111 514h1M112 432h1M112 434h1M112 440h1M112 441h1M112 442h1M112 443h1M112 444h1M112 445h1M112 447h1M112 448h1M112 450h1M112 451h1M112 452h1M112 453h1M112 456h1M112 458h1M112 463h1M112 464h1M112 471h1M112 477h1M112 478h1M112 480h1M112 483h1M112 485h1M112 489h1M112 490h1M112 491h1M112 492h1M112 493h1M112 494h1M112 495h1M112 496h1M112 498h1M112 499h1M112 500h1M112 501h1M112 502h1M112 504h1M112 505h1M112 508h1M112 509h1M112 510h1M112 512h1M112 513h1M112 515h1M112 516h1M112 517h1M113 435h1M113 437h1M113 438h1M113 439h1M113 441h1M113 442h1M113 443h1M113 444h1M113 445h1M113 446h1M113 447h1M113 448h1M113 449h1M113 450h1M113 451h1M113 452h1M113 453h1M113 454h1M113 455h1M113 465h1M113 467h1M113 472h1M113 477h1M113 479h1M113 480h1M113 482h1M113 483h1M113 485h1M113 488h1M113 492h1M113 494h1M113 495h1M113 498h1M113 501h1M113 503h1M113 504h1M113 505h1M113 506h1M113 507h1M113 508h1M113 509h1M113 510h1M113 511h1M113 512h1M113 513h1M114 437h1M114 438h1M114 439h1M114 441h1M114 443h1M114 444h1M114 446h1M114 447h1M114 449h1M114 451h1M114 452h1M114 453h1M114 455h1M114 461h1M114 462h1M114 463h1M114 468h1M114 471h1M114 472h1M114 473h1M114 474h1M114 476h1M114 482h1M114 486h1M114 488h1M114 490h1M114 491h1M114 492h1M114 493h1M114 496h1M114 499h1M114 501h1M114 505h1M114 506h1M114 507h1M114 508h1M114 509h1M114 510h1M114 512h1M114 513h1M114 514h1M114 515h1M114 517h1M114 518h1M115 433h1M115 434h1M115 436h1M115 438h1M115 440h1M115 442h1M115 443h1M115 445h1M115 446h1M115 447h1M115 451h1M115 453h1M115 457h1M115 463h1M115 464h1M115 466h1M115 470h1M115 471h1M115 473h1M115 475h1M115 477h1M115 480h1M115 482h1M115 486h1M115 489h1M115 491h1M115 496h1M115 497h1M115 498h1M115 500h1M115 501h1M115 502h1M115 503h1M115 505h1M115 506h1M115 507h1M115 508h1M115 509h1M115 510h1M115 511h1M115 515h1M116 431h1M116 432h1M116 435h1M116 437h1M116 438h1M116 439h1M116 441h1M116 442h1M116 443h1M116 444h1M116 445h1M116 446h1M116 447h1M116 448h1M116 449h1M116 454h1M116 457h1M116 466h1M116 475h1M116 482h1M116 483h1M116 484h1M116 487h1M116 489h1M116 490h1M116 491h1M116 492h1M116 494h1M116 500h1M116 501h1M116 503h1M116 504h1M116 505h1M116 506h1M116 507h1M116 508h1M116 509h1M116 510h1M116 511h1M116 512h1M116 513h1M116 517h1M116 518h1M117 434h1M117 437h1M117 438h1M117 440h1M117 441h1M117 443h1M117 444h1M117 445h1M117 447h1M117 448h1M117 449h1M117 451h1M117 453h1M117 458h1M117 466h1M117 468h1M117 469h1M117 472h1M117 476h1M117 482h1M117 486h1M117 487h1M117 490h1M117 491h1M117 499h1M117 500h1M117 501h1M117 502h1M117 504h1M117 506h1M117 507h1M117 508h1M117 509h1M117 510h1M117 511h1M117 512h1M117 514h1M117 515h1M117 516h1M117 517h1M118 429h1M118 431h1M118 436h1M118 437h1M118 438h1M118 439h1M118 440h1M118 441h1M118 443h1M118 444h1M118 445h1M118 446h1M118 447h1M118 448h1M118 451h1M118 455h1M118 464h1M118 467h1M118 474h1M118 482h1M118 489h1M118 490h1M118 491h1M118 492h1M118 493h1M118 499h1M118 500h1M118 503h1M118 504h1M118 505h1M118 506h1M118 507h1M118 510h1M118 514h1M118 515h1M118 516h1M118 517h1M118 519h1M119 429h1M119 430h1M119 433h1M119 435h1M119 437h1M119 439h1M119 441h1M119 442h1M119 444h1M119 445h1M119 446h1M119 452h1M119 457h1M119 463h1M119 467h1M119 471h1M119 473h1M119 479h1M119 482h1M119 489h1M119 490h1M119 491h1M119 492h1M119 497h1M119 498h1M119 500h1M119 501h1M119 503h1M119 504h1M119 506h1M119 508h1M119 509h1M119 511h1M119 513h1M119 514h1M120 433h1M120 435h1M120 436h1M120 437h1M120 438h1M120 439h1M120 440h1M120 441h1M120 444h1M120 445h1M120 451h1M120 452h1M120 459h1M120 462h1M120 470h1M120 474h1M120 475h1M120 478h1M120 480h1M120 481h1M120 484h1M120 485h1M120 489h1M120 493h1M120 495h1M120 498h1M120 501h1M120 502h1M120 503h1M120 504h1M120 505h1M120 507h1M120 508h1M120 510h1M120 511h1M120 512h1M120 513h1M120 516h1M120 519h1M121 433h1M121 434h1M121 435h1M121 436h1M121 437h1M121 439h1M121 440h1M121 441h1M121 442h1M121 443h1M121 444h1M121 445h1M121 447h1M121 450h1M121 459h1M121 468h1M121 471h1M121 476h1M121 478h1M121 482h1M121 484h1M121 485h1M121 491h1M121 492h1M121 493h1M121 496h1M121 497h1M121 500h1M121 501h1M121 502h1M121 503h1M121 504h1M121 505h1M121 506h1M121 507h1M121 508h1M121 509h1M121 510h1M121 511h1M121 512h1M121 515h1M121 518h1M121 522h1M122 424h1M122 427h1M122 428h1M122 431h1M122 433h1M122 434h1M122 435h1M122 436h1M122 437h1M122 438h1M122 439h1M122 440h1M122 444h1M122 445h1M122 446h1M122 449h1M122 453h1M122 456h1M122 462h1M122 465h1M122 467h1M122 475h1M122 483h1M122 486h1M122 489h1M122 490h1M122 493h1M122 495h1M122 499h1M122 502h1M122 503h1M122 505h1M122 506h1M122 507h1M122 508h1M122 509h1M122 510h1M122 511h1M122 512h1M122 513h1M122 514h1M122 519h1M122 522h1M123 426h1M123 427h1M123 430h1M123 434h1M123 435h1M123 436h1M123 437h1M123 440h1M123 441h1M123 442h1M123 443h1M123 445h1M123 446h1M123 448h1M123 459h1M123 462h1M123 463h1M123 465h1M123 468h1M123 472h1M123 475h1M123 476h1M123 477h1M123 481h1M123 482h1M123 484h1M123 487h1M123 495h1M123 496h1M123 497h1M123 499h1M123 500h1M123 501h1M123 504h1M123 505h1M123 506h1M123 507h1M123 508h1M123 509h1M123 510h1M123 511h1M123 515h1M123 516h1M124 429h1M124 430h1M124 432h1M124 434h1M124 436h1M124 437h1M124 438h1M124 440h1M124 441h1M124 446h1M124 447h1M124 462h1M124 470h1M124 473h1M124 477h1M124 479h1M124 480h1M124 481h1M124 484h1M124 487h1M124 488h1M124 489h1M124 496h1M124 497h1M124 500h1M124 501h1M124 502h1M124 503h1M124 504h1M124 505h1M124 507h1M124 508h1M124 509h1M124 510h1M124 511h1M124 512h1M124 513h1M124 514h1M124 515h1M124 517h1M124 518h1M124 519h1M124 527h1M125 424h1M125 431h1M125 432h1M125 433h1M125 435h1M125 437h1M125 441h1M125 444h1M125 446h1M125 451h1M125 467h1M125 469h1M125 471h1M125 473h1M125 475h1M125 477h1M125 481h1M125 484h1M125 486h1M125 488h1M125 490h1M125 491h1M125 493h1M125 494h1M125 497h1M125 500h1M125 501h1M125 505h1M125 507h1M125 509h1M125 511h1M125 512h1M125 514h1M126 419h1M126 422h1M126 426h1M126 431h1M126 433h1M126 434h1M126 435h1M126 436h1M126 437h1M126 438h1M126 440h1M126 441h1M126 443h1M126 445h1M126 446h1M126 450h1M126 463h1M126 464h1M126 465h1M126 467h1M126 472h1M126 474h1M126 477h1M126 478h1M126 479h1M126 482h1M126 485h1M126 489h1M126 492h1M126 494h1M126 495h1M126 497h1M126 498h1M126 500h1M126 501h1M126 503h1M126 505h1M126 507h1M126 508h1M126 509h1M126 511h1M126 512h1M126 513h1M126 514h1M126 516h1M126 517h1M126 519h1M126 524h1M127 421h1M127 426h1M127 428h1M127 430h1M127 431h1M127 432h1M127 433h1M127 434h1M127 435h1M127 436h1M127 437h1M127 440h1M127 445h1M127 448h1M127 453h1M127 474h1M127 477h1M127 480h1M127 481h1M127 482h1M127 483h1M127 486h1M127 487h1M127 488h1M127 489h1M127 490h1M127 491h1M127 494h1M127 495h1M127 496h1M127 497h1M127 500h1M127 501h1M127 502h1M127 503h1M127 504h1M127 505h1M127 506h1M127 507h1M127 508h1M127 510h1M127 512h1M127 516h1M127 517h1M127 519h1M128 424h1M128 426h1M128 429h1M128 430h1M128 431h1M128 432h1M128 433h1M128 435h1M128 436h1M128 437h1M128 438h1M128 442h1M128 446h1M128 449h1M128 460h1M128 468h1M128 471h1M128 476h1M128 478h1M128 481h1M128 484h1M128 487h1M128 488h1M128 490h1M128 491h1M128 493h1M128 494h1M128 497h1M128 498h1M128 499h1M128 500h1M128 502h1M128 503h1M128 504h1M128 505h1M128 506h1M128 509h1M128 512h1M128 513h1M128 516h1M128 517h1M129 417h1M129 421h1M129 428h1M129 429h1M129 430h1M129 431h1M129 433h1M129 438h1M129 440h1M129 442h1M129 451h1M129 457h1M129 463h1M129 469h1M129 480h1M129 482h1M129 484h1M129 486h1M129 488h1M129 489h1M129 491h1M129 493h1M129 496h1M129 497h1M129 499h1M129 500h1M129 501h1M129 503h1M129 504h1M129 505h1M129 507h1M129 509h1M129 511h1M129 512h1M129 513h1M129 514h1M129 516h1M129 526h1M129 540h1M130 429h1M130 431h1M130 433h1M130 434h1M130 436h1M130 464h1M130 465h1M130 466h1M130 477h1M130 478h1M130 479h1M130 482h1M130 483h1M130 485h1M130 487h1M130 489h1M130 493h1M130 494h1M130 495h1M130 497h1M130 498h1M130 503h1M130 504h1M130 505h1M130 506h1M130 507h1M130 509h1M130 510h1M130 514h1M130 517h1M130 522h1M131 421h1M131 425h1M131 428h1M131 429h1M131 430h1M131 431h1M131 436h1M131 437h1M131 441h1M131 444h1M131 448h1M131 458h1M131 465h1M131 482h1M131 484h1M131 487h1M131 488h1M131 494h1M131 495h1M131 496h1M131 497h1M131 498h1M131 499h1M131 500h1M131 503h1M131 504h1M131 505h1M131 506h1M131 507h1M131 509h1M131 511h1M131 514h1M131 519h1M131 520h1M131 524h1M132 423h1M132 427h1M132 428h1M132 430h1M132 433h1M132 435h1M132 438h1M132 462h1M132 466h1M132 475h1M132 487h1M132 491h1M132 492h1M132 494h1M132 497h1M132 499h1M132 500h1M132 501h1M132 504h1M132 505h1M132 506h1M132 507h1M132 508h1M132 510h1M132 513h1M132 514h1M132 515h1M132 517h1M132 522h1M133 425h1M133 426h1M133 429h1M133 433h1M133 436h1M133 439h1M133 443h1M133 452h1M133 456h1M133 475h1M133 477h1M133 479h1M133 485h1M133 486h1M133 487h1M133 488h1M133 489h1M133 491h1M133 492h1M133 494h1M133 495h1M133 497h1M133 498h1M133 499h1M133 500h1M133 503h1M133 505h1M133 506h1M133 507h1M133 508h1M133 510h1M133 511h1M133 512h1M133 513h1M133 516h1M133 517h1M133 518h1M133 538h1M134 424h1M134 426h1M134 429h1M134 432h1M134 449h1M134 454h1M134 462h1M134 463h1M134 486h1M134 492h1M134 493h1M134 494h1M134 498h1M134 501h1M134 502h1M134 503h1M134 504h1M134 505h1M134 506h1M134 507h1M134 508h1M134 510h1M134 513h1M134 514h1M134 517h1M135 412h1M135 421h1M135 441h1M135 442h1M135 447h1M135 478h1M135 479h1M135 480h1M135 483h1M135 486h1M135 492h1M135 496h1M135 498h1M135 499h1M135 500h1M135 502h1M135 504h1M135 505h1M135 506h1M135 507h1M135 509h1M135 513h1M135 517h1M135 519h1M135 520h1M135 522h1M136 424h1M136 430h1M136 463h1M136 465h1M136 478h1M136 484h1M136 487h1M136 488h1M136 490h1M136 495h1M136 497h1M136 499h1M136 500h1M136 502h1M136 506h1M136 512h1M136 513h1M136 518h1M137 427h1M137 434h1M137 467h1M137 469h1M137 471h1M137 475h1M137 481h1M137 486h1M137 488h1M137 490h1M137 492h1M137 495h1M137 496h1M137 498h1M137 499h1M137 502h1M137 503h1M137 504h1M137 505h1M137 507h1M137 508h1M137 511h1M137 515h1M137 516h1M137 518h1M138 418h1M138 424h1M138 427h1M138 430h1M138 431h1M138 459h1M138 481h1M138 484h1M138 486h1M138 491h1M138 492h1M138 496h1M138 499h1M138 500h1M138 503h1M138 505h1M138 508h1M138 509h1M138 510h1M138 511h1M138 512h1M138 513h1M138 517h1M138 518h1M138 521h1M139 419h1M139 421h1M139 432h1M139 434h1M139 478h1M139 483h1M139 486h1M139 491h1M139 492h1M139 497h1M139 503h1M139 505h1M139 507h1M139 511h1M139 512h1M139 529h1M140 417h1M140 443h1M140 452h1M140 464h1M140 469h1M140 472h1M140 476h1M140 478h1M140 481h1M140 497h1M140 499h1M140 501h1M140 506h1M140 507h1M140 509h1M140 510h1M140 515h1M140 516h1M140 520h1M141 460h1M141 468h1M141 477h1M141 478h1M141 480h1M141 482h1M141 490h1M141 498h1M141 502h1M141 507h1M141 510h1M141 521h1M141 523h1M142 431h1M142 471h1M142 497h1M142 507h1M142 508h1M142 509h1M142 512h1M142 524h1M143 431h1M143 475h1M143 476h1M143 478h1M143 484h1M143 485h1M143 494h1M143 502h1M143 511h1M143 516h1M143 523h1M144 469h1M144 474h1M144 478h1M144 484h1M144 492h1M144 499h1M144 500h1M144 503h1M144 505h1M144 524h1M145 487h1M145 502h1M145 503h1M146 476h1M146 495h1M146 496h1M146 497h1M146 500h1M147 414h1M147 463h1M147 471h1M147 503h1M147 504h1M148 492h1M148 493h1M148 501h1M148 502h1M148 513h1M149 456h1M149 483h1M149 487h1M149 501h1M149 504h1M149 505h1M150 496h1M150 508h1M151 478h1M151 486h1M152 466h1M152 481h1M152 496h1M153 492h1M155 480h1M155 487h1M156 477h1M158 482h1M158 489h1M159 504h1M160 503h1M161 453h1M161 481h1M161 483h1M161 489h1M164 469h1M166 501h1M168 484h1M168 491h1M169 511h1" stroke="#5148aa" stroke-width="1" stroke-opacity="0.85" fill="none" shape-rendering="crispEdges"/>
<path d="M61 507h1M62 498h1M62 503h1M62 504h1M62 508h1M62 511h1M62 512h1M63 499h1M63 502h1M63 505h1M63 508h1M63 509h1M63 510h1M63 511h1M63 512h1M63 513h1M63 514h1M64 488h1M64 496h1M64 498h1M64 501h1M64 504h1M64 505h1M64 506h1M64 507h1M64 508h1M64 509h1M64 510h1M64 511h1M64 512h1M64 513h1M64 514h1M64 515h1M65 497h1M65 502h1M65 503h1M65 504h1M65 505h1M65 506h1M65 507h1M65 508h1M65 509h1M65 510h1M65 511h1M65 512h1M65 513h1M65 514h1M65 515h1M65 516h1M66 502h1M66 503h1M66 504h1M66 505h1M66 506h1M66 507h1M66 508h1M66 509h1M66 510h1M66 511h1M66 512h1M66 513h1M66 514h1M66 515h1M66 516h1M66 517h1M67 490h1M67 493h1M67 496h1M67 500h1M67 501h1M67 502h1M67 503h1M67 504h1M67 505h1M67 506h1M67 507h1M67 508h1M67 509h1M67 510h1M67 511h1M67 512h1M67 513h1M67 514h1M67 515h1M67 516h1M67 517h1M68 489h1M68 496h1M68 497h1M68 498h1M68 500h1M68 501h1M68 502h1M68 503h1M68 504h1M68 505h1M68 506h1M68 507h1M68 508h1M68 509h1M68 510h1M68 511h1M68 512h1M68 513h1M68 514h1M68 515h1M68 516h1M68 517h1M69 492h1M69 493h1M69 494h1M69 495h1M69 496h1M69 498h1M69 499h1M69 500h1M69 501h1M69 502h1M69 503h1M69 504h1M69 505h1M69 506h1M69 507h1M69 508h1M69 509h1M69 510h1M69 511h1M69 512h1M69 513h1M69 514h1M69 515h1M69 516h1M69 517h1M70 494h1M70 495h1M70 496h1M70 497h1M70 498h1M70 499h1M70 500h1M70 501h1M70 502h1M70 503h1M70 504h1M70 505h1M70 506h1M70 507h1M70 508h1M70 509h1M70 510h1M70 511h1M70 512h1M70 513h1M70 514h1M70 515h1M70 516h1M70 517h1M70 518h1M71 490h1M71 492h1M71 493h1M71 494h1M71 496h1M71 497h1M71 498h1M71 499h1M71 500h1M71 501h1M71 502h1M71 503h1M71 504h1M71 505h1M71 506h1M71 507h1M71 508h1M71 509h1M71 510h1M71 511h1M71 512h1M71 513h1M71 514h1M71 515h1M71 516h1M71 517h1M71 518h1M71 519h1M72 493h1M72 494h1M72 495h1M72 496h1M72 497h1M72 498h1M72 499h1M72 500h1M72 501h1M72 502h1M72 503h1M72 504h1M72 505h1M72 506h1M72 507h1M72 508h1M72 509h1M72 510h1M72 511h1M72 512h1M72 513h1M72 514h1M72 515h1M72 516h1M72 517h1M72 518h1M73 490h1M73 491h1M73 492h1M73 494h1M73 495h1M73 496h1M73 497h1M73 498h1M73 499h1M73 500h1M73 501h1M73 502h1M73 503h1M73 504h1M73 505h1M73 506h1M73 507h1M73 508h1M73 509h1M73 510h1M73 511h1M73 512h1M73 513h1M73 514h1M73 515h1M73 516h1M73 517h1M73 518h1M73 519h1M74 489h1M74 491h1M74 494h1M74 495h1M74 496h1M74 497h1M74 498h1M74 499h1M74 500h1M74 501h1M74 502h1M74 503h1M74 504h1M74 505h1M74 506h1M74 507h1M74 508h1M74 509h1M74 510h1M74 511h1M74 512h1M74 513h1M74 514h1M74 515h1M74 516h1M74 517h1M74 518h1M75 490h1M75 493h1M75 495h1M75 496h1M75 497h1M75 498h1M75 499h1M75 500h1M75 501h1M75 502h1M75 503h1M75 504h1M75 505h1M75 506h1M75 507h1M75 508h1M75 509h1M75 510h1M75 511h1M75 512h1M75 513h1M75 514h1M75 515h1M75 516h1M75 517h1M75 518h1M75 520h1M76 491h1M76 494h1M76 495h1M76 497h1M76 498h1M76 499h1M76 500h1M76 501h1M76 502h1M76 503h1M76 504h1M76 505h1M76 506h1M76 507h1M76 508h1M76 509h1M76 510h1M76 511h1M76 512h1M76 513h1M76 514h1M76 515h1M76 516h1M76 517h1M76 518h1M76 519h1M77 495h1M77 496h1M77 498h1M77 500h1M77 501h1M77 502h1M77 503h1M77 504h1M77 505h1M77 506h1M77 507h1M77 508h1M77 509h1M77 510h1M77 511h1M77 512h1M77 513h1M77 514h1M77 515h1M77 516h1M77 517h1M77 519h1M78 491h1M78 495h1M78 496h1M78 497h1M78 498h1M78 499h1M78 500h1M78 501h1M78 502h1M78 503h1M78 504h1M78 505h1M78 506h1M78 507h1M78 508h1M78 509h1M78 510h1M78 511h1M78 512h1M78 513h1M78 514h1M78 515h1M78 516h1M78 517h1M78 518h1M79 496h1M79 498h1M79 499h1M79 500h1M79 501h1M79 502h1M79 503h1M79 504h1M79 505h1M79 506h1M79 507h1M79 508h1M79 509h1M79 510h1M79 511h1M79 512h1M79 513h1M79 514h1M79 515h1M79 516h1M79 517h1M79 519h1M80 496h1M80 497h1M80 498h1M80 499h1M80 500h1M80 501h1M80 502h1M80 503h1M80 504h1M80 505h1M80 506h1M80 507h1M80 508h1M80 509h1M80 510h1M80 511h1M80 512h1M80 513h1M80 514h1M80 515h1M80 516h1M80 517h1M80 518h1M80 519h1M81 497h1M81 499h1M81 500h1M81 501h1M81 502h1M81 503h1M81 504h1M81 505h1M81 506h1M81 507h1M81 508h1M81 509h1M81 510h1M81 511h1M81 512h1M81 513h1M81 514h1M81 515h1M81 516h1M81 517h1M81 518h1M82 495h1M82 497h1M82 498h1M82 500h1M82 501h1M82 502h1M82 503h1M82 504h1M82 505h1M82 506h1M82 507h1M82 508h1M82 509h1M82 510h1M82 511h1M82 512h1M82 513h1M82 514h1M82 515h1M82 516h1M82 517h1M82 518h1M83 498h1M83 499h1M83 500h1M83 501h1M83 502h1M83 503h1M83 504h1M83 505h1M83 506h1M83 507h1M83 508h1M83 509h1M83 510h1M83 511h1M83 512h1M83 513h1M83 514h1M83 515h1M83 523h1M84 499h1M84 500h1M84 501h1M84 503h1M84 504h1M84 505h1M84 506h1M84 507h1M84 508h1M84 509h1M84 510h1M84 511h1M84 512h1M84 513h1M84 514h1M84 515h1M84 516h1M84 517h1M85 499h1M85 500h1M85 501h1M85 503h1M85 504h1M85 505h1M85 506h1M85 507h1M85 508h1M85 509h1M85 510h1M85 511h1M85 512h1M85 513h1M85 514h1M85 515h1M85 516h1M85 517h1M86 500h1M86 502h1M86 505h1M86 506h1M86 507h1M86 508h1M86 509h1M86 510h1M86 511h1M86 512h1M86 513h1M86 514h1M86 515h1M86 517h1M86 519h1M87 496h1M87 500h1M87 503h1M87 505h1M87 506h1M87 507h1M87 508h1M87 509h1M87 510h1M87 511h1M87 513h1M87 516h1M88 500h1M88 501h1M88 505h1M88 506h1M88 507h1M88 508h1M88 509h1M88 511h1M88 513h1M88 517h1M88 519h1M89 498h1M89 502h1M89 503h1M89 504h1M89 505h1M89 506h1M89 507h1M89 508h1M89 509h1M89 510h1M89 511h1M89 513h1M89 514h1M89 515h1M90 461h1M90 502h1M90 504h1M90 506h1M90 507h1M90 508h1M90 509h1M90 511h1M90 512h1M90 513h1M90 515h1M90 518h1M91 501h1M91 502h1M91 504h1M91 505h1M91 506h1M91 507h1M91 508h1M91 509h1M91 510h1M91 513h1M91 514h1M91 517h1M92 501h1M92 503h1M92 505h1M92 506h1M92 508h1M92 509h1M92 510h1M92 511h1M92 513h1M92 514h1M92 515h1M92 516h1M92 517h1M93 503h1M93 504h1M93 505h1M93 506h1M93 507h1M93 509h1M93 510h1M93 511h1M93 512h1M93 522h1M94 502h1M94 503h1M94 504h1M94 508h1M94 509h1M94 511h1M94 512h1M94 513h1M94 515h1M94 517h1M95 505h1M95 506h1M95 507h1M95 508h1M95 509h1M95 511h1M95 512h1M95 513h1M95 514h1M95 516h1M95 517h1M96 461h1M96 502h1M96 504h1M96 505h1M96 506h1M96 507h1M96 508h1M96 509h1M96 510h1M96 512h1M96 513h1M96 516h1M97 458h1M97 501h1M97 505h1M97 506h1M97 508h1M97 509h1M97 510h1M97 511h1M97 513h1M97 514h1M97 516h1M98 457h1M98 500h1M98 503h1M98 504h1M98 505h1M98 506h1M98 507h1M98 508h1M98 509h1M98 510h1M98 511h1M98 512h1M98 513h1M98 515h1M98 516h1M99 499h1M99 505h1M99 507h1M99 508h1M99 509h1M99 511h1M99 512h1M99 513h1M99 515h1M99 516h1M99 523h1M100 459h1M100 460h1M100 494h1M100 502h1M100 503h1M100 504h1M100 505h1M100 507h1M100 508h1M100 509h1M100 510h1M100 511h1M100 513h1M100 515h1M101 458h1M101 499h1M101 502h1M101 504h1M101 505h1M101 508h1M101 509h1M101 511h1M101 512h1M101 514h1M102 452h1M102 501h1M102 502h1M102 503h1M102 504h1M102 505h1M102 506h1M102 507h1M102 508h1M102 511h1M102 512h1M102 513h1M103 499h1M103 502h1M103 504h1M103 505h1M103 506h1M103 507h1M103 508h1M103 509h1M103 510h1M103 512h1M103 514h1M104 446h1M104 447h1M104 448h1M104 451h1M104 455h1M104 458h1M104 502h1M104 506h1M104 507h1M104 510h1M104 511h1M104 515h1M104 517h1M105 444h1M105 447h1M105 451h1M105 455h1M105 501h1M105 502h1M105 503h1M105 504h1M105 505h1M105 507h1M105 508h1M105 509h1M105 512h1M105 514h1M105 516h1M105 520h1M106 446h1M106 447h1M106 448h1M106 450h1M106 453h1M106 455h1M106 458h1M106 459h1M106 498h1M106 503h1M106 504h1M106 505h1M106 507h1M106 509h1M106 510h1M106 512h1M106 513h1M106 514h1M106 517h1M107 449h1M107 450h1M107 451h1M107 503h1M107 504h1M107 505h1M107 507h1M107 508h1M107 509h1M107 511h1M107 512h1M107 513h1M107 517h1M107 518h1M108 442h1M108 444h1M108 445h1M108 449h1M108 450h1M108 451h1M108 502h1M108 503h1M108 504h1M108 505h1M108 506h1M108 507h1M108 508h1M108 509h1M108 510h1M108 511h1M108 513h1M108 515h1M108 522h1M109 444h1M109 445h1M109 447h1M109 450h1M109 451h1M109 497h1M109 501h1M109 503h1M109 504h1M109 506h1M109 507h1M109 508h1M109 509h1M109 510h1M109 511h1M109 512h1M109 516h1M109 519h1M110 445h1M110 447h1M110 448h1M110 450h1M110 451h1M110 453h1M110 454h1M110 504h1M110 505h1M110 507h1M110 508h1M110 509h1M110 510h1M110 513h1M110 520h1M111 441h1M111 443h1M111 444h1M111 446h1M111 447h1M111 450h1M111 451h1M111 453h1M111 496h1M111 504h1M111 505h1M111 506h1M111 507h1M111 508h1M111 510h1M111 511h1M112 440h1M112 442h1M112 443h1M112 445h1M112 446h1M112 447h1M112 448h1M112 449h1M112 450h1M112 451h1M112 452h1M112 453h1M112 455h1M112 501h1M112 503h1M112 505h1M112 506h1M112 508h1M112 509h1M112 510h1M112 511h1M112 513h1M112 515h1M112 520h1M113 441h1M113 443h1M113 445h1M113 446h1M113 447h1M113 448h1M113 449h1M113 451h1M113 454h1M113 497h1M113 498h1M113 500h1M113 501h1M113 504h1M113 505h1M113 506h1M113 507h1M113 508h1M113 509h1M113 510h1M113 511h1M113 512h1M113 514h1M113 515h1M114 439h1M114 443h1M114 445h1M114 447h1M114 448h1M114 450h1M114 504h1M114 505h1M114 506h1M114 508h1M114 510h1M114 511h1M114 512h1M114 513h1M114 515h1M115 440h1M115 442h1M115 444h1M115 445h1M115 448h1M115 451h1M115 502h1M115 503h1M115 505h1M115 508h1M115 510h1M115 512h1M115 513h1M115 514h1M115 515h1M116 435h1M116 438h1M116 439h1M116 440h1M116 442h1M116 444h1M116 445h1M116 446h1M116 447h1M116 501h1M116 503h1M116 504h1M116 505h1M116 509h1M116 510h1M116 511h1M116 512h1M116 519h1M117 435h1M117 437h1M117 439h1M117 440h1M117 441h1M117 442h1M117 444h1M117 446h1M117 448h1M117 498h1M117 499h1M117 504h1M117 505h1M117 506h1M117 507h1M117 510h1M117 513h1M117 514h1M117 518h1M118 435h1M118 438h1M118 439h1M118 440h1M118 441h1M118 442h1M118 443h1M118 444h1M118 445h1M118 446h1M118 447h1M118 491h1M118 497h1M118 499h1M118 502h1M118 503h1M118 505h1M118 506h1M118 507h1M118 508h1M118 509h1M118 510h1M118 511h1M118 513h1M118 515h1M118 517h1M119 438h1M119 439h1M119 440h1M119 441h1M119 442h1M119 444h1M119 445h1M119 446h1M119 486h1M119 497h1M119 499h1M119 501h1M119 502h1M119 503h1M119 504h1M119 505h1M119 508h1M119 509h1M119 510h1M119 511h1M119 512h1M119 513h1M119 514h1M119 516h1M119 519h1M120 435h1M120 436h1M120 437h1M120 438h1M120 439h1M120 440h1M120 444h1M120 497h1M120 498h1M120 499h1M120 501h1M120 502h1M120 503h1M120 504h1M120 505h1M120 506h1M120 507h1M120 508h1M120 510h1M120 511h1M120 512h1M120 513h1M120 514h1M120 515h1M120 516h1M120 518h1M120 519h1M121 431h1M121 432h1M121 434h1M121 435h1M121 436h1M121 437h1M121 438h1M121 439h1M121 440h1M121 441h1M121 442h1M121 444h1M121 489h1M121 490h1M121 493h1M121 496h1M121 498h1M121 499h1M121 500h1M121 501h1M121 502h1M121 503h1M121 504h1M121 505h1M121 507h1M121 508h1M121 509h1M121 512h1M121 514h1M121 515h1M121 522h1M122 432h1M122 433h1M122 434h1M122 435h1M122 436h1M122 438h1M122 439h1M122 442h1M122 445h1M122 489h1M122 491h1M122 492h1M122 494h1M122 495h1M122 497h1M122 499h1M122 500h1M122 501h1M122 502h1M122 503h1M122 504h1M122 505h1M122 506h1M122 507h1M122 508h1M122 509h1M122 510h1M122 511h1M122 512h1M122 514h1M122 515h1M123 432h1M123 434h1M123 440h1M123 441h1M123 442h1M123 492h1M123 494h1M123 495h1M123 497h1M123 498h1M123 499h1M123 500h1M123 501h1M123 502h1M123 503h1M123 504h1M123 505h1M123 506h1M123 507h1M123 508h1M123 509h1M123 510h1M123 511h1M123 512h1M123 513h1M123 514h1M123 515h1M123 518h1M123 519h1M123 522h1M124 433h1M124 434h1M124 435h1M124 437h1M124 439h1M124 441h1M124 487h1M124 488h1M124 490h1M124 491h1M124 493h1M124 494h1M124 495h1M124 496h1M124 497h1M124 498h1M124 499h1M124 500h1M124 501h1M124 502h1M124 503h1M124 504h1M124 505h1M124 506h1M124 507h1M124 508h1M124 509h1M124 510h1M124 511h1M124 512h1M124 513h1M124 514h1M124 515h1M124 516h1M124 518h1M125 430h1M125 432h1M125 433h1M125 435h1M125 436h1M125 437h1M125 438h1M125 440h1M125 485h1M125 491h1M125 492h1M125 493h1M125 494h1M125 495h1M125 496h1M125 497h1M125 498h1M125 499h1M125 500h1M125 501h1M125 502h1M125 503h1M125 504h1M125 505h1M125 506h1M125 507h1M125 508h1M125 509h1M125 510h1M125 511h1M125 512h1M125 513h1M125 514h1M125 515h1M125 516h1M125 522h1M126 430h1M126 432h1M126 433h1M126 435h1M126 436h1M126 437h1M126 438h1M126 440h1M126 441h1M126 488h1M126 489h1M126 491h1M126 492h1M126 493h1M126 494h1M126 495h1M126 496h1M126 497h1M126 498h1M126 499h1M126 500h1M126 501h1M126 502h1M126 503h1M126 504h1M126 505h1M126 506h1M126 507h1M126 508h1M126 509h1M126 510h1M126 511h1M126 512h1M126 513h1M126 514h1M126 515h1M126 516h1M126 517h1M126 518h1M127 425h1M127 431h1M127 432h1M127 434h1M127 435h1M127 436h1M127 490h1M127 491h1M127 492h1M127 493h1M127 494h1M127 495h1M127 496h1M127 497h1M127 498h1M127 499h1M127 500h1M127 501h1M127 502h1M127 503h1M127 504h1M127 505h1M127 506h1M127 507h1M127 508h1M127 509h1M127 510h1M127 511h1M127 512h1M127 513h1M127 514h1M127 515h1M127 517h1M127 518h1M127 524h1M127 526h1M128 429h1M128 432h1M128 433h1M128 435h1M128 436h1M128 437h1M128 439h1M128 488h1M128 489h1M128 490h1M128 492h1M128 493h1M128 494h1M128 495h1M128 496h1M128 497h1M128 498h1M128 499h1M128 500h1M128 501h1M128 502h1M128 503h1M128 504h1M128 505h1M128 506h1M128 507h1M128 508h1M128 509h1M128 510h1M128 511h1M128 512h1M128 513h1M128 514h1M128 515h1M128 516h1M128 517h1M128 519h1M128 522h1M129 425h1M129 427h1M129 428h1M129 429h1M129 430h1M129 431h1M129 433h1M129 436h1M129 485h1M129 487h1M129 489h1M129 490h1M129 492h1M129 493h1M129 494h1M129 495h1M129 496h1M129 497h1M129 498h1M129 499h1M129 500h1M129 501h1M129 502h1M129 503h1M129 504h1M129 505h1M129 506h1M129 507h1M129 508h1M129 509h1M129 510h1M129 511h1M129 512h1M129 513h1M129 514h1M129 515h1M129 516h1M129 517h1M129 518h1M129 519h1M130 426h1M130 427h1M130 428h1M130 429h1M130 432h1M130 434h1M130 435h1M130 439h1M130 477h1M130 483h1M130 487h1M130 489h1M130 490h1M130 491h1M130 492h1M130 494h1M130 495h1M130 496h1M130 497h1M130 498h1M130 499h1M130 500h1M130 501h1M130 502h1M130 503h1M130 504h1M130 505h1M130 506h1M130 507h1M130 508h1M130 509h1M130 510h1M130 511h1M130 512h1M130 513h1M130 514h1M130 515h1M130 516h1M130 517h1M130 518h1M130 520h1M131 426h1M131 428h1M131 430h1M131 487h1M131 488h1M131 489h1M131 490h1M131 491h1M131 492h1M131 493h1M131 494h1M131 495h1M131 496h1M131 497h1M131 498h1M131 499h1M131 500h1M131 501h1M131 502h1M131 503h1M131 504h1M131 505h1M131 506h1M131 507h1M131 508h1M131 509h1M131 510h1M131 511h1M131 512h1M131 513h1M131 514h1M131 516h1M131 518h1M131 519h1M131 524h1M132 427h1M132 429h1M132 430h1M132 482h1M132 483h1M132 485h1M132 488h1M132 490h1M132 491h1M132 492h1M132 493h1M132 494h1M132 495h1M132 496h1M132 497h1M132 498h1M132 499h1M132 500h1M132 501h1M132 502h1M132 503h1M132 504h1M132 505h1M132 506h1M132 507h1M132 508h1M132 509h1M132 510h1M132 511h1M132 512h1M132 513h1M132 514h1M132 515h1M132 517h1M132 518h1M133 420h1M133 428h1M133 489h1M133 490h1M133 491h1M133 492h1M133 493h1M133 494h1M133 495h1M133 496h1M133 497h1M133 498h1M133 499h1M133 500h1M133 501h1M133 502h1M133 503h1M133 504h1M133 505h1M133 506h1M133 507h1M133 508h1M133 509h1M133 510h1M133 511h1M133 512h1M133 513h1M133 514h1M133 516h1M133 517h1M133 518h1M133 520h1M133 522h1M133 529h1M134 421h1M134 422h1M134 423h1M134 430h1M134 431h1M134 486h1M134 488h1M134 489h1M134 490h1M134 491h1M134 492h1M134 493h1M134 494h1M134 495h1M134 496h1M134 497h1M134 498h1M134 499h1M134 500h1M134 501h1M134 502h1M134 503h1M134 504h1M134 505h1M134 506h1M134 507h1M134 508h1M134 509h1M134 510h1M134 511h1M134 512h1M134 513h1M134 514h1M134 515h1M134 516h1M134 518h1M135 426h1M135 485h1M135 489h1M135 490h1M135 491h1M135 493h1M135 494h1M135 495h1M135 496h1M135 497h1M135 498h1M135 499h1M135 500h1M135 501h1M135 502h1M135 503h1M135 504h1M135 505h1M135 506h1M135 507h1M135 508h1M135 509h1M135 510h1M135 511h1M135 512h1M135 513h1M135 514h1M135 516h1M135 518h1M135 519h1M135 520h1M135 521h1M135 523h1M136 475h1M136 491h1M136 492h1M136 493h1M136 494h1M136 495h1M136 496h1M136 497h1M136 498h1M136 499h1M136 500h1M136 501h1M136 502h1M136 503h1M136 504h1M136 505h1M136 506h1M136 507h1M136 508h1M136 509h1M136 510h1M136 511h1M136 512h1M136 513h1M136 514h1M136 515h1M136 516h1M136 518h1M136 519h1M136 523h1M137 421h1M137 432h1M137 488h1M137 490h1M137 492h1M137 494h1M137 495h1M137 497h1M137 498h1M137 499h1M137 500h1M137 501h1M137 502h1M137 503h1M137 504h1M137 505h1M137 506h1M137 507h1M137 508h1M137 509h1M137 510h1M137 511h1M137 512h1M137 513h1M137 514h1M137 515h1M137 516h1M137 517h1M138 421h1M138 422h1M138 425h1M138 427h1M138 484h1M138 486h1M138 490h1M138 492h1M138 493h1M138 494h1M138 495h1M138 496h1M138 497h1M138 498h1M138 499h1M138 500h1M138 502h1M138 503h1M138 504h1M138 505h1M138 506h1M138 507h1M138 508h1M138 509h1M138 510h1M138 511h1M138 513h1M138 514h1M138 517h1M138 518h1M138 520h1M139 490h1M139 495h1M139 496h1M139 497h1M139 499h1M139 500h1M139 501h1M139 502h1M139 503h1M139 504h1M139 505h1M139 506h1M139 507h1M139 508h1M139 509h1M139 511h1M139 512h1M139 513h1M139 514h1M139 515h1M139 516h1M139 521h1M140 421h1M140 488h1M140 489h1M140 493h1M140 494h1M140 495h1M140 496h1M140 497h1M140 498h1M140 499h1M140 501h1M140 502h1M140 503h1M140 504h1M140 505h1M140 507h1M140 508h1M140 509h1M140 510h1M140 512h1M140 513h1M140 515h1M140 516h1M140 525h1M141 492h1M141 493h1M141 494h1M141 495h1M141 496h1M141 497h1M141 499h1M141 500h1M141 501h1M141 503h1M141 504h1M141 506h1M141 507h1M141 508h1M141 510h1M141 511h1M141 512h1M141 513h1M141 515h1M141 523h1M142 491h1M142 493h1M142 496h1M142 499h1M142 500h1M142 501h1M142 502h1M142 503h1M142 506h1M142 507h1M142 508h1M142 509h1M142 511h1M142 512h1M143 418h1M143 488h1M143 490h1M143 501h1M143 502h1M143 506h1M143 507h1M143 511h1M143 515h1M144 494h1M144 498h1M144 508h1M144 515h1M144 520h1M145 506h1M145 512h1M145 516h1M146 516h1M150 511h1" stroke="#33279a" stroke-width="1" stroke-opacity="0.95" fill="none" shape-rendering="crispEdges"/>
<ellipse cx="130.6" cy="504.3" rx="8.3" ry="10.2" fill="#2d2192" filter="url(#b2)" opacity="0.95"/>
<path d="M61.6 496Q61.6 490.5 66 491.2L78 494.5Q90 499 100 503.5L100 513Q86 517.6 72 517.4Q62 516 61.6 506Z" fill="url(#tailg)" filter="url(#b1)"/>
<ellipse cx="71.5" cy="507.2" rx="7.6" ry="8" fill="#2c52c4" filter="url(#b2)" opacity="0.9"/>
<ellipse cx="68.3" cy="511" rx="7.4" ry="7.4" fill="url(#core)"/>
</g>
<rect x="35.6" y="398.6" width="147.6" height="146" fill="none" stroke="#000" stroke-width="1.3"/>
<path d="M90.5 544.6v3.4M102.7 544.6v2.0M109.8 544.6v2.0M114.8 544.6v2.0M118.7 544.6v2.0M121.9 544.6v2.0M124.6 544.6v2.0M126.9 544.6v2.0M129.0 544.6v2.0M130.8 544.6v3.4M142.9 544.6v2.0M150.0 544.6v2.0M155.1 544.6v2.0M159.0 544.6v2.0M162.2 544.6v2.0M164.9 544.6v2.0M167.2 544.6v2.0M169.3 544.6v2.0M171.1 544.6v3.4M66.0 544.6v2.4M66.8 544.6v2.4M67.6 544.6v2.4M68.4 544.6v3.0M69.2 544.6v2.4M70.0 544.6v2.4M70.8 544.6v2.4M44.8 544.6v1.5M47.1 544.6v1.5M49.4 544.6v1.5M51.7 544.6v1.5M54.0 544.6v1.5M56.3 544.6v1.5M58.6 544.6v1.5M60.9 544.6v1.5M63.2 544.6v1.5M65.5 544.6v1.5M67.8 544.6v1.5M70.1 544.6v1.5M72.4 544.6v1.5M74.7 544.6v1.5M77.0 544.6v1.5M79.3 544.6v1.5M81.6 544.6v1.5M83.9 544.6v1.5M86.2 544.6v1.5M88.5 544.6v1.5M42.6 544.6v3.4" stroke="#000" stroke-width="1.1" fill="none"/>
<path d="M35.6 506.2h-1.8M35.6 507.1h-1.8M35.6 508.0h-1.8M35.6 508.9h-1.8M35.6 509.8h-1.8M35.6 510.7h-1.8M35.6 511.6h-2.8M35.6 512.5h-1.8M35.6 513.4h-1.8M35.6 514.3h-1.8M35.6 515.2h-1.8M35.6 516.1h-1.8M35.6 517.0h-1.8M35.6 488.8h-1.5M35.6 491.1h-1.5M35.6 493.4h-1.5M35.6 495.7h-1.5M35.6 498.0h-1.5M35.6 500.3h-1.5M35.6 502.6h-1.5M35.6 504.9h-1.5M35.6 507.2h-1.5M35.6 509.5h-1.5M35.6 511.8h-1.5M35.6 514.1h-1.5M35.6 516.4h-1.5M35.6 518.7h-1.5M35.6 521.0h-1.5M35.6 523.3h-1.5M35.6 525.6h-1.5M35.6 527.9h-1.5M35.6 530.2h-1.5M35.6 532.5h-1.5M35.6 486.6h-3M35.6 475.2h-1.6M35.6 468.5h-1.6M35.6 463.7h-1.6M35.6 460.0h-1.6M35.6 457.0h-1.6M35.6 454.5h-1.6M35.6 452.3h-1.6M35.6 450.3h-1.6M35.6 448.6h-3M35.6 437.2h-1.6M35.6 430.5h-1.6M35.6 425.7h-1.6M35.6 422.0h-1.6M35.6 419.0h-1.6M35.6 416.5h-1.6M35.6 414.3h-1.6M35.6 412.3h-1.6M35.6 410.6h-3M35.6 535.1h-3M35.6 537.8h-1.6M35.6 539.4h-1.6M35.6 540.5h-1.6M35.6 541.4h-1.6M35.6 542.1h-1.6M35.6 542.7h-1.6" stroke="#000" stroke-width="1.1" fill="none"/>
<path d="M95.4 441L93.5 461.2L112.7 467.9L136.2 445.8L147.7 416.9L146.7 413.1L137.1 409.2Z" fill="none" stroke="#1a1a1a" stroke-width="1"/>
<path d="M128.8 485L137.5 486.9L144.2 495.6L147.1 506.2L143.3 516.7L134.6 521.5L123.1 519.6L118.3 510L118.3 496.5L122.1 488.8Z" fill="none" stroke="#1a1a1a" stroke-width="1"/>
<rect x="57.3" y="407.3" width="61.5" height="20.2" fill="#fff" stroke="#000" stroke-width="1.15"/>
<text x="62.3" y="415.6" font-size="7.6" text-anchor="start" font-weight="normal" fill="#1a1a1a" stroke="#1a1a1a" stroke-width="0.22" textLength="52.3" lengthAdjust="spacingAndGlyphs" >Autofluorescent</text>
<text x="62.3" y="424.7" font-size="7.6" text-anchor="start" font-weight="normal" fill="#1a1a1a" stroke="#1a1a1a" stroke-width="0.22" textLength="39.2" lengthAdjust="spacingAndGlyphs" >cells (0.9%)</text>
<rect x="113.9" y="521.8" width="74.6" height="29.2" fill="#fff" stroke="#000" stroke-width="1.15"/>
<text x="116.9" y="529.7" font-size="7.6" text-anchor="start" font-weight="normal" fill="#1a1a1a" stroke="#1a1a1a" stroke-width="0.22" textLength="36.6" lengthAdjust="spacingAndGlyphs" >CD14 high</text>
<text x="116.9" y="538.9" font-size="7.6" text-anchor="start" font-weight="normal" fill="#1a1a1a" stroke="#1a1a1a" stroke-width="0.22" textLength="67.7" lengthAdjust="spacingAndGlyphs" >Non-Autofluorescent</text>
<text x="116.9" y="548.1" font-size="7.6" text-anchor="start" font-weight="normal" fill="#1a1a1a" stroke="#1a1a1a" stroke-width="0.22" textLength="60" lengthAdjust="spacingAndGlyphs" >Monocytes (3.0%)</text>
<text x="86.7" y="559.4" font-size="9.7" text-anchor="start" font-weight="normal" fill="#2a2a2a" stroke="#2a2a2a" stroke-width="0.45" textLength="15" lengthAdjust="spacingAndGlyphs" >CD14</text>
<path d="M104.6 556H110.5" stroke="#2a2a2a" stroke-width="1.1" fill="none"/>
<path d="M113 556L109.4 554L109.4 558Z" fill="#2a2a2a"/>
<text x="15.3" y="497" font-size="9.2" fill="#2a2a2a" stroke="#2a2a2a" stroke-width="0.4" textLength="38.6" lengthAdjust="spacingAndGlyphs" transform="rotate(-90 15.3 497)">PerCP-Cy5.5</text>
<path d="M12.8 455.8V452" stroke="#2a2a2a" stroke-width="1.1"/><path d="M12.8 449.2L10.8 452.8L14.8 452.8Z" fill="#2a2a2a"/>
<text x="26.4" y="505.3" font-size="9.2" fill="#2a2a2a" stroke="#2a2a2a" stroke-width="0.4" textLength="56" lengthAdjust="spacingAndGlyphs" transform="rotate(-90 26.4 505.3)">(autofluorescence)</text>
<path d="M262.0 434.6L268.0 434.0L274.0 433.0L280.0 433.5L284.0 434.0L287.5 433.2L290.0 431.5L292.5 431.0L295.5 431.5L298.8 431.0L302.0 429.5L305.0 428.8L308.0 427.0L310.0 427.5L312.5 425.0L315.0 423.5L317.5 422.5L319.0 424.0L320.0 423.8L322.0 420.5L323.8 418.8L325.5 418.5L327.5 415.5L329.0 412.0L330.0 408.8L331.2 404.0L332.5 398.8L334.2 396.5L336.2 392.5L338.0 389.0L340.0 387.5L341.5 388.5L343.8 387.5L345.0 388.5L346.2 390.0L347.5 393.5L348.8 398.8L349.8 404.0L350.8 410.0L352.0 412.5L352.7 408.0L353.2 403.8" fill="none" stroke="#27418a" stroke-width="1.1" stroke-linejoin="round"/>
<rect x="221.3" y="363" width="133" height="72" fill="none" stroke="#000" stroke-width="1.3"/>
<path d="M270.8 435v3.4M281.7 435v2.0M288.1 435v2.0M292.7 435v2.0M296.2 435v2.0M299.0 435v2.0M301.5 435v2.0M303.6 435v2.0M305.4 435v2.0M307.1 435v3.4M318.0 435v2.0M324.4 435v2.0M329.0 435v2.0M332.5 435v2.0M335.4 435v2.0M337.8 435v2.0M339.9 435v2.0M341.7 435v2.0M343.4 435v3.4M248.4 435v2.4M249.2 435v2.4M250.0 435v2.4M250.8 435v3.0M251.6 435v2.4M252.4 435v2.4M253.2 435v2.4M229.8 435v1.5M232.1 435v1.5M234.4 435v1.5M236.7 435v1.5M239.0 435v1.5M241.3 435v1.5M243.6 435v1.5M245.9 435v1.5M248.2 435v1.5M250.5 435v1.5M252.8 435v1.5M255.1 435v1.5M257.4 435v1.5M259.7 435v1.5M262.0 435v1.5M264.3 435v1.5M266.6 435v1.5M268.9 435v1.5M227.6 435v3.4" stroke="#000" stroke-width="1.1" fill="none"/>
<path d="M314.3 363V435M314.3 408.8H354.3" stroke="#000" stroke-width="1" fill="none"/>
<rect x="331.3" y="357" width="61.2" height="29.8" fill="#fff" stroke="#000" stroke-width="1.15"/>
<text x="336.3" y="364.8" font-size="7.6" text-anchor="start" font-weight="normal" fill="#1a1a1a" stroke="#1a1a1a" stroke-width="0.22" textLength="41" lengthAdjust="spacingAndGlyphs" >CD163 high</text>
<text x="336.3" y="375" font-size="7.6" text-anchor="start" font-weight="normal" fill="#1a1a1a" stroke="#1a1a1a" stroke-width="0.22" textLength="51.8" lengthAdjust="spacingAndGlyphs" >Autofluorescent</text>
<text x="336.3" y="383.9" font-size="7.6" text-anchor="start" font-weight="normal" fill="#1a1a1a" stroke="#1a1a1a" stroke-width="0.22" textLength="37.5" lengthAdjust="spacingAndGlyphs" >cells (90%)</text>
<text x="274.5" y="448.6" font-size="9.7" text-anchor="start" font-weight="normal" fill="#2a2a2a" stroke="#2a2a2a" stroke-width="0.45" textLength="18.3" lengthAdjust="spacingAndGlyphs" >CD163</text>
<path d="M297.5 445.2H303.3" stroke="#2a2a2a" stroke-width="1.1" fill="none"/>
<path d="M305.8 445.2L302.2 443.2L302.2 447.2Z" fill="#2a2a2a"/>
<rect x="214" y="467" width="154" height="98.8" fill="url(#bg1)"/>
<g clip-path="url(#c1)">
<circle cx="288" cy="519" r="8" fill="#e3d3cd" opacity="0.75" filter="url(#b2)"/>
<circle cx="257.5" cy="477.5" r="6" fill="#f0d9dc" opacity="0.6" filter="url(#b2)"/>
<circle cx="348.8" cy="493.8" r="7.5" fill="#ecd2d4" opacity="0.85" filter="url(#b2)"/>
<circle cx="346.3" cy="561" r="6.5" fill="#e9c4d2" opacity="0.8" filter="url(#b2)"/>
<circle cx="294" cy="518" r="6" fill="#e6d8ce" opacity="0.5" filter="url(#b2)"/>
<circle cx="221" cy="533" r="5" fill="#f0cfe0" opacity="0.6" filter="url(#b2)"/>
<circle cx="240" cy="496" r="5" fill="#f3dde0" opacity="0.5" filter="url(#b2)"/>
<circle cx="300" cy="470" r="5" fill="#f3dde0" opacity="0.5" filter="url(#b2)"/>
<circle cx="263.5" cy="471.9" r="6.1499999999999995" fill="#f0bfd9" opacity="0.65" filter="url(#b1)"/>
<circle cx="261.6" cy="472.4" r="3.1" fill="#b7338c" filter="url(#b0)"/>
<circle cx="264.4" cy="470.2" r="3.1" fill="#b7338c" filter="url(#b0)"/>
<circle cx="265.0" cy="473.2" r="3.1" fill="#b7338c" filter="url(#b0)"/>
<ellipse cx="262.7" cy="471.1" rx="1.3" ry="0.8" fill="#f3c6e3" opacity="0.85" filter="url(#b0)" transform="rotate(92 262.7 471.1)"/>
<circle cx="277.3" cy="467.6" r="5.6499999999999995" fill="#f0bfd9" opacity="0.65" filter="url(#b1)"/>
<circle cx="277.3" cy="465.9" r="2.7" fill="#b7338c" filter="url(#b0)"/>
<circle cx="278.7" cy="468.7" r="2.7" fill="#b7338c" filter="url(#b0)"/>
<circle cx="275.8" cy="468.4" r="2.7" fill="#b7338c" filter="url(#b0)"/>
<ellipse cx="278.3" cy="467.7" rx="1.3" ry="0.7" fill="#f3c6e3" opacity="0.85" filter="url(#b0)" transform="rotate(177 278.3 467.7)"/>
<circle cx="285" cy="469.2" r="5.85" fill="#f0bfd9" opacity="0.65" filter="url(#b1)"/>
<circle cx="284.1" cy="467.6" r="2.9" fill="#b7338c" filter="url(#b0)"/>
<circle cx="286.8" cy="468.7" r="2.9" fill="#b7338c" filter="url(#b0)"/>
<circle cx="284.7" cy="471.0" r="2.9" fill="#b7338c" filter="url(#b0)"/>
<ellipse cx="285.5" cy="468.2" rx="1.0" ry="0.8" fill="#f3c6e3" opacity="0.85" filter="url(#b0)" transform="rotate(44 285.5 468.2)"/>
<circle cx="284.4" cy="471.1" r="0.6" fill="#f3c6e3" opacity="0.7" filter="url(#b0)"/>
<circle cx="248.1" cy="489.6" r="6.35" fill="#f0bfd9" opacity="0.65" filter="url(#b1)"/>
<circle cx="246.1" cy="490.1" r="3.2" fill="#b7338c" filter="url(#b0)"/>
<circle cx="249.1" cy="487.8" r="3.2" fill="#b7338c" filter="url(#b0)"/>
<circle cx="249.5" cy="491.1" r="3.2" fill="#b7338c" filter="url(#b0)"/>
<ellipse cx="247.4" cy="488.6" rx="1.2" ry="1.0" fill="#f3c6e3" opacity="0.85" filter="url(#b0)" transform="rotate(82 247.4 488.6)"/>
<circle cx="249.6" cy="491.2" r="0.6" fill="#f3c6e3" opacity="0.7" filter="url(#b0)"/>
<circle cx="275.8" cy="491.2" r="6.25" fill="#f0bfd9" opacity="0.65" filter="url(#b1)"/>
<circle cx="277.7" cy="491.8" r="3.1" fill="#b7338c" filter="url(#b0)"/>
<circle cx="274.5" cy="492.7" r="3.1" fill="#b7338c" filter="url(#b0)"/>
<circle cx="275.0" cy="489.4" r="3.1" fill="#b7338c" filter="url(#b0)"/>
<ellipse cx="276.6" cy="492.1" rx="1.1" ry="0.8" fill="#f3c6e3" opacity="0.85" filter="url(#b0)" transform="rotate(13 276.6 492.1)"/>
<circle cx="279.3" cy="499.6" r="6.25" fill="#f0bfd9" opacity="0.65" filter="url(#b1)"/>
<circle cx="277.5" cy="500.4" r="3.1" fill="#b7338c" filter="url(#b0)"/>
<circle cx="279.0" cy="497.6" r="3.1" fill="#b7338c" filter="url(#b0)"/>
<circle cx="280.8" cy="500.9" r="3.1" fill="#b7338c" filter="url(#b0)"/>
<ellipse cx="278.4" cy="498.8" rx="1.0" ry="0.8" fill="#f3c6e3" opacity="0.85" filter="url(#b0)" transform="rotate(164 278.4 498.8)"/>
<circle cx="281.0" cy="500.9" r="0.6" fill="#f3c6e3" opacity="0.7" filter="url(#b0)"/>
<circle cx="227.3" cy="529.6" r="6.35" fill="#f0bfd9" opacity="0.65" filter="url(#b1)"/>
<circle cx="229.3" cy="529.2" r="3.2" fill="#b7338c" filter="url(#b0)"/>
<circle cx="227.0" cy="531.6" r="3.2" fill="#b7338c" filter="url(#b0)"/>
<circle cx="226.2" cy="527.9" r="3.2" fill="#b7338c" filter="url(#b0)"/>
<ellipse cx="227.7" cy="530.7" rx="1.1" ry="0.7" fill="#f3c6e3" opacity="0.85" filter="url(#b0)" transform="rotate(60 227.7 530.7)"/>
<circle cx="233.5" cy="536.5" r="6.25" fill="#f0bfd9" opacity="0.65" filter="url(#b1)"/>
<circle cx="233.1" cy="534.5" r="3.1" fill="#b7338c" filter="url(#b0)"/>
<circle cx="235.3" cy="537.3" r="3.1" fill="#b7338c" filter="url(#b0)"/>
<circle cx="232.0" cy="537.8" r="3.1" fill="#b7338c" filter="url(#b0)"/>
<ellipse cx="234.2" cy="535.6" rx="1.4" ry="0.8" fill="#f3c6e3" opacity="0.85" filter="url(#b0)" transform="rotate(101 234.2 535.6)"/>
<circle cx="232.4" cy="538.4" r="0.6" fill="#f3c6e3" opacity="0.7" filter="url(#b0)"/>
<circle cx="250.1" cy="529.6" r="6.35" fill="#f0bfd9" opacity="0.65" filter="url(#b1)"/>
<circle cx="250.6" cy="531.6" r="3.2" fill="#b7338c" filter="url(#b0)"/>
<circle cx="248.1" cy="529.7" r="3.2" fill="#b7338c" filter="url(#b0)"/>
<circle cx="251.5" cy="528.1" r="3.2" fill="#b7338c" filter="url(#b0)"/>
<ellipse cx="249.7" cy="530.8" rx="1.2" ry="0.8" fill="#f3c6e3" opacity="0.85" filter="url(#b0)" transform="rotate(49 249.7 530.8)"/>
<circle cx="284.5" cy="531.2" r="6.25" fill="#f0bfd9" opacity="0.65" filter="url(#b1)"/>
<circle cx="284.9" cy="529.3" r="3.1" fill="#b7338c" filter="url(#b0)"/>
<circle cx="285.4" cy="533.0" r="3.1" fill="#b7338c" filter="url(#b0)"/>
<circle cx="282.6" cy="531.9" r="3.1" fill="#b7338c" filter="url(#b0)"/>
<ellipse cx="285.6" cy="530.9" rx="1.4" ry="1.0" fill="#f3c6e3" opacity="0.85" filter="url(#b0)" transform="rotate(18 285.6 530.9)"/>
<circle cx="305" cy="536.25" r="6.35" fill="#f0bfd9" opacity="0.65" filter="url(#b1)"/>
<circle cx="305.7" cy="538.1" r="3.2" fill="#b7338c" filter="url(#b0)"/>
<circle cx="303.2" cy="535.4" r="3.2" fill="#b7338c" filter="url(#b0)"/>
<circle cx="306.3" cy="534.7" r="3.2" fill="#b7338c" filter="url(#b0)"/>
<ellipse cx="304.3" cy="537.2" rx="1.0" ry="0.7" fill="#f3c6e3" opacity="0.85" filter="url(#b0)" transform="rotate(105 304.3 537.2)"/>
<circle cx="306.0" cy="534.3" r="0.6" fill="#f3c6e3" opacity="0.7" filter="url(#b0)"/>
<circle cx="268.75" cy="553.75" r="6.05" fill="#f0bfd9" opacity="0.65" filter="url(#b1)"/>
<circle cx="267.1" cy="552.7" r="3.0" fill="#b7338c" filter="url(#b0)"/>
<circle cx="270.5" cy="552.9" r="3.0" fill="#b7338c" filter="url(#b0)"/>
<circle cx="268.0" cy="555.5" r="3.0" fill="#b7338c" filter="url(#b0)"/>
<ellipse cx="268.9" cy="552.6" rx="1.3" ry="1.0" fill="#f3c6e3" opacity="0.85" filter="url(#b0)" transform="rotate(33 268.9 552.6)"/>
<circle cx="268.8" cy="555.8" r="0.6" fill="#f3c6e3" opacity="0.7" filter="url(#b0)"/>
<circle cx="263.75" cy="560.5" r="6.25" fill="#f0bfd9" opacity="0.65" filter="url(#b1)"/>
<circle cx="265.6" cy="559.7" r="3.1" fill="#b7338c" filter="url(#b0)"/>
<circle cx="264.2" cy="562.5" r="3.1" fill="#b7338c" filter="url(#b0)"/>
<circle cx="261.8" cy="559.9" r="3.1" fill="#b7338c" filter="url(#b0)"/>
<ellipse cx="264.6" cy="561.3" rx="1.5" ry="0.8" fill="#f3c6e3" opacity="0.85" filter="url(#b0)" transform="rotate(171 264.6 561.3)"/>
<circle cx="340.5" cy="476.25" r="6.55" fill="#f0bfd9" opacity="0.65" filter="url(#b1)"/>
<circle cx="338.8" cy="475.0" r="3.3" fill="#b7338c" filter="url(#b0)"/>
<circle cx="342.2" cy="475.0" r="3.3" fill="#b7338c" filter="url(#b0)"/>
<circle cx="340.8" cy="478.3" r="3.3" fill="#b7338c" filter="url(#b0)"/>
<ellipse cx="341.2" cy="475.2" rx="1.1" ry="1.0" fill="#f3c6e3" opacity="0.85" filter="url(#b0)" transform="rotate(46 341.2 475.2)"/>
<circle cx="366.5" cy="471.25" r="5.25" fill="#f0bfd9" opacity="0.65" filter="url(#b1)"/>
<circle cx="365.1" cy="470.5" r="2.5" fill="#b7338c" filter="url(#b0)"/>
<circle cx="367.8" cy="470.3" r="2.5" fill="#b7338c" filter="url(#b0)"/>
<circle cx="366.2" cy="472.8" r="2.5" fill="#b7338c" filter="url(#b0)"/>
<ellipse cx="366.2" cy="470.4" rx="1.1" ry="0.9" fill="#f3c6e3" opacity="0.85" filter="url(#b0)" transform="rotate(153 366.2 470.4)"/>
<circle cx="356.25" cy="516.75" r="6.35" fill="#f0bfd9" opacity="0.65" filter="url(#b1)"/>
<circle cx="355.4" cy="518.6" r="3.2" fill="#b7338c" filter="url(#b0)"/>
<circle cx="354.5" cy="515.7" r="3.2" fill="#b7338c" filter="url(#b0)"/>
<circle cx="357.9" cy="515.6" r="3.2" fill="#b7338c" filter="url(#b0)"/>
<ellipse cx="355.2" cy="517.4" rx="1.2" ry="0.7" fill="#f3c6e3" opacity="0.85" filter="url(#b0)" transform="rotate(32 355.2 517.4)"/>
<circle cx="357.9" cy="515.3" r="0.6" fill="#f3c6e3" opacity="0.7" filter="url(#b0)"/>
<circle cx="328.75" cy="517.5" r="6.1499999999999995" fill="#f0bfd9" opacity="0.65" filter="url(#b1)"/>
<circle cx="326.8" cy="517.1" r="3.1" fill="#b7338c" filter="url(#b0)"/>
<circle cx="330.3" cy="516.3" r="3.1" fill="#b7338c" filter="url(#b0)"/>
<circle cx="328.4" cy="519.4" r="3.1" fill="#b7338c" filter="url(#b0)"/>
<ellipse cx="329.2" cy="516.4" rx="1.3" ry="1.0" fill="#f3c6e3" opacity="0.85" filter="url(#b0)" transform="rotate(105 329.2 516.4)"/>
<circle cx="328.2" cy="519.5" r="0.6" fill="#f3c6e3" opacity="0.7" filter="url(#b0)"/>
<circle cx="330" cy="526.25" r="6.1499999999999995" fill="#f0bfd9" opacity="0.65" filter="url(#b1)"/>
<circle cx="331.9" cy="526.1" r="3.1" fill="#b7338c" filter="url(#b0)"/>
<circle cx="328.4" cy="527.3" r="3.1" fill="#b7338c" filter="url(#b0)"/>
<circle cx="329.6" cy="524.3" r="3.1" fill="#b7338c" filter="url(#b0)"/>
<ellipse cx="329.8" cy="527.4" rx="1.0" ry="1.0" fill="#f3c6e3" opacity="0.85" filter="url(#b0)" transform="rotate(87 329.8 527.4)"/>
<circle cx="315" cy="527.5" r="6.05" fill="#f0bfd9" opacity="0.65" filter="url(#b1)"/>
<circle cx="313.7" cy="528.9" r="3.0" fill="#b7338c" filter="url(#b0)"/>
<circle cx="313.5" cy="526.3" r="3.0" fill="#b7338c" filter="url(#b0)"/>
<circle cx="316.9" cy="527.4" r="3.0" fill="#b7338c" filter="url(#b0)"/>
<ellipse cx="313.9" cy="527.3" rx="1.5" ry="1.0" fill="#f3c6e3" opacity="0.85" filter="url(#b0)" transform="rotate(127 313.9 527.3)"/>
<circle cx="305.5" cy="537" r="6.35" fill="#f0bfd9" opacity="0.65" filter="url(#b1)"/>
<circle cx="307.2" cy="535.8" r="3.2" fill="#b7338c" filter="url(#b0)"/>
<circle cx="305.3" cy="539.0" r="3.2" fill="#b7338c" filter="url(#b0)"/>
<circle cx="304.0" cy="535.6" r="3.2" fill="#b7338c" filter="url(#b0)"/>
<ellipse cx="306.3" cy="537.9" rx="1.2" ry="1.0" fill="#f3c6e3" opacity="0.85" filter="url(#b0)" transform="rotate(155 306.3 537.9)"/>
<circle cx="312.6" cy="534.6" r="5.45" fill="#f0bfd9" opacity="0.65" filter="url(#b1)"/>
<circle cx="311.3" cy="533.5" r="2.6" fill="#b7338c" filter="url(#b0)"/>
<circle cx="314.2" cy="534.2" r="2.6" fill="#b7338c" filter="url(#b0)"/>
<circle cx="312.1" cy="536.2" r="2.6" fill="#b7338c" filter="url(#b0)"/>
<ellipse cx="312.4" cy="533.6" rx="1.3" ry="1.1" fill="#f3c6e3" opacity="0.85" filter="url(#b0)" transform="rotate(158 312.4 533.6)"/>
<circle cx="320" cy="542" r="6.25" fill="#f0bfd9" opacity="0.65" filter="url(#b1)"/>
<circle cx="318.3" cy="543.1" r="3.1" fill="#b7338c" filter="url(#b0)"/>
<circle cx="319.7" cy="540.0" r="3.1" fill="#b7338c" filter="url(#b0)"/>
<circle cx="321.9" cy="542.6" r="3.1" fill="#b7338c" filter="url(#b0)"/>
<ellipse cx="319.1" cy="541.2" rx="1.0" ry="1.0" fill="#f3c6e3" opacity="0.85" filter="url(#b0)" transform="rotate(5 319.1 541.2)"/>
<circle cx="325.5" cy="560.5" r="3" fill="#c9a32c" filter="url(#b15)"/>
</g>
<rect x="214" y="467" width="154" height="98.8" fill="none" stroke="#000" stroke-width="1.4"/>
<rect x="409.3" y="412.9" width="103.9" height="151.6" fill="#fcf9e1"/>
<g clip-path="url(#c2)">
<ellipse cx="458" cy="470" rx="36" ry="52" fill="#f8e9ec" opacity="0.7" filter="url(#b4)"/>
<ellipse cx="450" cy="535" rx="30" ry="24" fill="#f8e9ec" opacity="0.6" filter="url(#b4)"/>
<circle cx="434.2" cy="431.5" r="11.5" fill="#e4c3da" opacity="0.72" filter="url(#b15)"/>
<circle cx="452" cy="442.5" r="11" fill="#e4c3da" opacity="0.72" filter="url(#b15)"/>
<circle cx="496.9" cy="446" r="12" fill="#e4c3da" opacity="0.72" filter="url(#b15)"/>
<circle cx="427" cy="492" r="11" fill="#e4c3da" opacity="0.72" filter="url(#b15)"/>
<circle cx="436" cy="490.5" r="10" fill="#e4c3da" opacity="0.72" filter="url(#b15)"/>
<circle cx="483.1" cy="501.2" r="11" fill="#e4c3da" opacity="0.72" filter="url(#b15)"/>
<circle cx="439.7" cy="514.9" r="12" fill="#e4c3da" opacity="0.72" filter="url(#b15)"/>
<circle cx="458.8" cy="547.3" r="15" fill="#e4c3da" opacity="0.72" filter="url(#b15)"/>
<circle cx="463" cy="431" r="9.5" fill="#e4c3da" opacity="0.72" filter="url(#b15)"/>
<circle cx="460.9" cy="528.7" r="9" fill="#e4c3da" opacity="0.72" filter="url(#b15)"/>
<circle cx="427" cy="547.7" r="8.5" fill="#e4c3da" opacity="0.72" filter="url(#b15)"/>
<circle cx="472" cy="458" r="8" fill="#e4c3da" opacity="0.72" filter="url(#b15)"/>
<circle cx="449.3" cy="464" r="8.5" fill="#e4c3da" opacity="0.72" filter="url(#b15)"/>
<circle cx="470" cy="447" r="7" fill="#e4c3da" opacity="0.72" filter="url(#b15)"/>
<circle cx="424" cy="490" r="4" fill="#f7eef0" opacity="0.8" filter="url(#b1)"/>
<circle cx="420.5" cy="497" r="2.5" fill="#f7eef0" opacity="0.7" filter="url(#b1)"/>
<ellipse cx="434.2" cy="431.8" rx="7" ry="7" fill="#c26cb6" opacity="0.95" filter="url(#b1)" transform="rotate(0 434.2 431.8)"/>
<circle cx="432.5" cy="432.0" r="1.5" fill="#a03e98" opacity="0.5" filter="url(#b0)"/>
<circle cx="430.8" cy="431.9" r="1.6" fill="#a03e98" opacity="0.5" filter="url(#b0)"/>
<circle cx="434.2" cy="432.5" r="1.1" fill="#a03e98" opacity="0.5" filter="url(#b0)"/>
<circle cx="433.5" cy="430.4" r="1.0" fill="#a03e98" opacity="0.5" filter="url(#b0)"/>
<circle cx="437.2" cy="429.8" r="1.3" fill="#a03e98" opacity="0.5" filter="url(#b0)"/>
<circle cx="435.8" cy="430.5" r="1.4" fill="#a03e98" opacity="0.5" filter="url(#b0)"/>
<circle cx="435.0" cy="434.2" r="1.5" fill="#a03e98" opacity="0.5" filter="url(#b0)"/>
<circle cx="438.1" cy="429.5" r="1.2" fill="#a03e98" opacity="0.5" filter="url(#b0)"/>
<circle cx="432.4" cy="430.8" r="1.0" fill="#a03e98" opacity="0.5" filter="url(#b0)"/>
<circle cx="429.9" cy="431.9" r="1.6" fill="#a03e98" opacity="0.5" filter="url(#b0)"/>
<ellipse cx="450.3" cy="443.4" rx="8.6" ry="5.8" fill="#c26cb6" opacity="0.95" filter="url(#b1)" transform="rotate(-8 450.3 443.4)"/>
<circle cx="448.9" cy="439.5" r="1.1" fill="#a03e98" opacity="0.5" filter="url(#b0)"/>
<circle cx="451.9" cy="445.3" r="1.1" fill="#a03e98" opacity="0.5" filter="url(#b0)"/>
<circle cx="451.0" cy="445.4" r="1.4" fill="#a03e98" opacity="0.5" filter="url(#b0)"/>
<circle cx="447.8" cy="443.5" r="1.6" fill="#a03e98" opacity="0.5" filter="url(#b0)"/>
<circle cx="453.6" cy="443.1" r="1.0" fill="#a03e98" opacity="0.5" filter="url(#b0)"/>
<circle cx="455.7" cy="444.1" r="0.9" fill="#a03e98" opacity="0.5" filter="url(#b0)"/>
<circle cx="449.3" cy="440.9" r="1.1" fill="#a03e98" opacity="0.5" filter="url(#b0)"/>
<circle cx="450.5" cy="442.8" r="1.0" fill="#a03e98" opacity="0.5" filter="url(#b0)"/>
<circle cx="449.3" cy="443.6" r="1.6" fill="#a03e98" opacity="0.5" filter="url(#b0)"/>
<circle cx="450.4" cy="444.5" r="0.9" fill="#a03e98" opacity="0.5" filter="url(#b0)"/>
<ellipse cx="497.9" cy="447.7" rx="7" ry="7.2" fill="#c26cb6" opacity="0.95" filter="url(#b1)" transform="rotate(0 497.9 447.7)"/>
<circle cx="496.1" cy="445.7" r="1.4" fill="#a03e98" opacity="0.5" filter="url(#b0)"/>
<circle cx="495.5" cy="444.1" r="1.7" fill="#a03e98" opacity="0.5" filter="url(#b0)"/>
<circle cx="497.3" cy="446.2" r="1.3" fill="#a03e98" opacity="0.5" filter="url(#b0)"/>
<circle cx="498.2" cy="448.4" r="1.3" fill="#a03e98" opacity="0.5" filter="url(#b0)"/>
<circle cx="497.6" cy="446.2" r="1.1" fill="#a03e98" opacity="0.5" filter="url(#b0)"/>
<circle cx="495.8" cy="450.9" r="1.3" fill="#a03e98" opacity="0.5" filter="url(#b0)"/>
<circle cx="494.9" cy="445.0" r="1.2" fill="#a03e98" opacity="0.5" filter="url(#b0)"/>
<circle cx="499.1" cy="443.1" r="1.0" fill="#a03e98" opacity="0.5" filter="url(#b0)"/>
<circle cx="501.4" cy="446.1" r="1.0" fill="#a03e98" opacity="0.5" filter="url(#b0)"/>
<circle cx="494.6" cy="448.7" r="1.6" fill="#a03e98" opacity="0.5" filter="url(#b0)"/>
<ellipse cx="435.5" cy="490.6" rx="5.8" ry="7.4" fill="#c26cb6" opacity="0.95" filter="url(#b1)" transform="rotate(0 435.5 490.6)"/>
<circle cx="433.6" cy="492.9" r="1.6" fill="#a03e98" opacity="0.5" filter="url(#b0)"/>
<circle cx="436.6" cy="485.7" r="1.3" fill="#a03e98" opacity="0.5" filter="url(#b0)"/>
<circle cx="434.7" cy="489.2" r="1.5" fill="#a03e98" opacity="0.5" filter="url(#b0)"/>
<circle cx="436.7" cy="487.2" r="1.5" fill="#a03e98" opacity="0.5" filter="url(#b0)"/>
<circle cx="436.4" cy="495.3" r="1.7" fill="#a03e98" opacity="0.5" filter="url(#b0)"/>
<circle cx="438.0" cy="490.1" r="1.5" fill="#a03e98" opacity="0.5" filter="url(#b0)"/>
<circle cx="433.9" cy="495.0" r="1.6" fill="#a03e98" opacity="0.5" filter="url(#b0)"/>
<circle cx="435.0" cy="491.5" r="1.3" fill="#a03e98" opacity="0.5" filter="url(#b0)"/>
<circle cx="432.3" cy="489.3" r="1.3" fill="#a03e98" opacity="0.5" filter="url(#b0)"/>
<circle cx="438.9" cy="491.4" r="1.0" fill="#a03e98" opacity="0.5" filter="url(#b0)"/>
<ellipse cx="483.1" cy="501.2" rx="7.6" ry="7.2" fill="#c26cb6" opacity="0.95" filter="url(#b1)" transform="rotate(0 483.1 501.2)"/>
<circle cx="483.6" cy="499.8" r="1.2" fill="#a03e98" opacity="0.5" filter="url(#b0)"/>
<circle cx="483.4" cy="499.9" r="1.0" fill="#a03e98" opacity="0.5" filter="url(#b0)"/>
<circle cx="479.0" cy="500.8" r="1.6" fill="#a03e98" opacity="0.5" filter="url(#b0)"/>
<circle cx="481.1" cy="496.6" r="1.3" fill="#a03e98" opacity="0.5" filter="url(#b0)"/>
<circle cx="484.2" cy="500.9" r="1.1" fill="#a03e98" opacity="0.5" filter="url(#b0)"/>
<circle cx="481.0" cy="500.9" r="1.5" fill="#a03e98" opacity="0.5" filter="url(#b0)"/>
<circle cx="481.0" cy="498.9" r="1.6" fill="#a03e98" opacity="0.5" filter="url(#b0)"/>
<circle cx="481.0" cy="500.4" r="1.2" fill="#a03e98" opacity="0.5" filter="url(#b0)"/>
<circle cx="485.9" cy="497.3" r="1.1" fill="#a03e98" opacity="0.5" filter="url(#b0)"/>
<circle cx="486.2" cy="497.1" r="1.3" fill="#a03e98" opacity="0.5" filter="url(#b0)"/>
<ellipse cx="439.7" cy="514.9" rx="8" ry="7.6" fill="#c26cb6" opacity="0.95" filter="url(#b1)" transform="rotate(0 439.7 514.9)"/>
<circle cx="438.1" cy="514.1" r="1.3" fill="#a03e98" opacity="0.5" filter="url(#b0)"/>
<circle cx="435.9" cy="514.8" r="0.9" fill="#a03e98" opacity="0.5" filter="url(#b0)"/>
<circle cx="443.0" cy="514.3" r="1.2" fill="#a03e98" opacity="0.5" filter="url(#b0)"/>
<circle cx="440.8" cy="511.7" r="1.3" fill="#a03e98" opacity="0.5" filter="url(#b0)"/>
<circle cx="439.3" cy="513.9" r="1.3" fill="#a03e98" opacity="0.5" filter="url(#b0)"/>
<circle cx="435.0" cy="517.6" r="1.6" fill="#a03e98" opacity="0.5" filter="url(#b0)"/>
<circle cx="439.3" cy="517.9" r="1.0" fill="#a03e98" opacity="0.5" filter="url(#b0)"/>
<circle cx="435.3" cy="516.8" r="1.6" fill="#a03e98" opacity="0.5" filter="url(#b0)"/>
<circle cx="437.4" cy="515.2" r="1.1" fill="#a03e98" opacity="0.5" filter="url(#b0)"/>
<circle cx="435.7" cy="511.5" r="1.0" fill="#a03e98" opacity="0.5" filter="url(#b0)"/>
<ellipse cx="458.8" cy="547.3" rx="7.2" ry="7.2" fill="#c26cb6" opacity="0.95" filter="url(#b1)" transform="rotate(0 458.8 547.3)"/>
<circle cx="458.9" cy="546.5" r="1.1" fill="#a03e98" opacity="0.5" filter="url(#b0)"/>
<circle cx="459.3" cy="551.0" r="1.2" fill="#a03e98" opacity="0.5" filter="url(#b0)"/>
<circle cx="456.7" cy="550.1" r="1.0" fill="#a03e98" opacity="0.5" filter="url(#b0)"/>
<circle cx="458.6" cy="546.0" r="1.3" fill="#a03e98" opacity="0.5" filter="url(#b0)"/>
<circle cx="458.8" cy="548.9" r="1.3" fill="#a03e98" opacity="0.5" filter="url(#b0)"/>
<circle cx="456.6" cy="548.2" r="1.2" fill="#a03e98" opacity="0.5" filter="url(#b0)"/>
<circle cx="457.4" cy="547.0" r="1.1" fill="#a03e98" opacity="0.5" filter="url(#b0)"/>
<circle cx="456.4" cy="544.7" r="1.3" fill="#a03e98" opacity="0.5" filter="url(#b0)"/>
<circle cx="460.8" cy="544.5" r="1.6" fill="#a03e98" opacity="0.5" filter="url(#b0)"/>
<circle cx="459.2" cy="551.3" r="1.5" fill="#a03e98" opacity="0.5" filter="url(#b0)"/>
<circle cx="449.3" cy="464" r="4.8" fill="#dc8cc4" opacity="0.9" filter="url(#b2)"/>
<circle cx="449.6" cy="464.6" r="1.8" fill="#c04aa4" filter="url(#b1)"/>
<circle cx="418.6" cy="506.9" r="1" fill="#3a2a3a"/>
<circle cx="482" cy="507.5" r="0.8" fill="#5a2a5a"/>
<circle cx="431" cy="516" r="0.7" fill="#5a2a5a"/>
</g>
<rect x="409.3" y="412.9" width="103.9" height="151.6" fill="none" stroke="#000" stroke-width="1.4"/>
<path d="M147.70 416.90L227.04 410.19" stroke="#000" stroke-width="1.6" fill="none"/>
<path d="M237.50 409.30L224.06 416.46L227.04 410.19L223.04 404.50Z" fill="#000"/>
<path d="M144.20 497.60L210.33 502.35" stroke="#000" stroke-width="1.6" fill="none"/>
<path d="M220.80 503.10L206.41 508.08L210.33 502.35L207.27 496.11Z" fill="#000"/>
<path d="M352.50 430.60L419.23 450.32" stroke="#000" stroke-width="1.6" fill="none"/>
<path d="M429.30 453.30L414.17 455.09L419.23 450.32L417.57 443.58Z" fill="#000"/>
<path d="M0.7 0V573" stroke="#000" stroke-width="1.5"/><path d="M0 0.65H520" stroke="#000" stroke-width="1.3"/><path d="M519.2 0V572.5" stroke="#000" stroke-width="1.3"/><path d="M0 571.9H520" stroke="#000" stroke-width="1.3"/>
</svg></body></html>
